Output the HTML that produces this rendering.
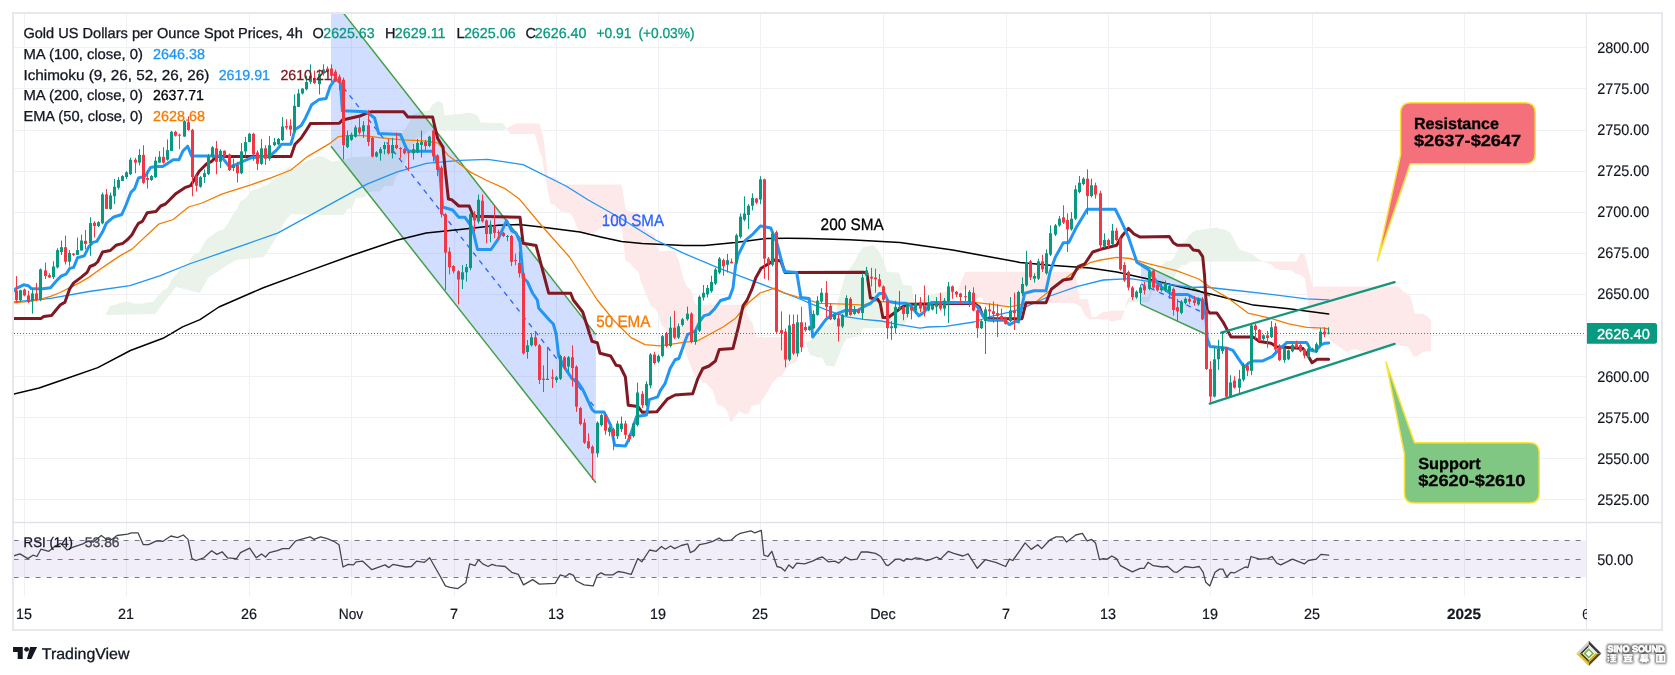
<!DOCTYPE html>
<html><head><meta charset="utf-8"><style>
html,body{margin:0;padding:0;background:#fff;width:1675px;height:675px;overflow:hidden;}
svg{display:block;will-change:transform;} text{text-rendering:geometricPrecision;}
</style></head><body>
<svg width="1675" height="675" viewBox="0 0 1675 675">
<rect width="1675" height="675" fill="#ffffff"/>
<g stroke="#f0f1f4" stroke-width="1"><line x1="13" y1="499.5" x2="1587" y2="499.5"/><line x1="13" y1="458.5" x2="1587" y2="458.5"/><line x1="13" y1="417.5" x2="1587" y2="417.5"/><line x1="13" y1="376.5" x2="1587" y2="376.5"/><line x1="13" y1="335.5" x2="1587" y2="335.5"/><line x1="13" y1="294.5" x2="1587" y2="294.5"/><line x1="13" y1="253.5" x2="1587" y2="253.5"/><line x1="13" y1="212.5" x2="1587" y2="212.5"/><line x1="13" y1="171.5" x2="1587" y2="171.5"/><line x1="13" y1="130.5" x2="1587" y2="130.5"/><line x1="13" y1="88.5" x2="1587" y2="88.5"/><line x1="13" y1="47.5" x2="1587" y2="47.5"/><line x1="24.5" y1="13" x2="24.5" y2="522"/><line x1="24.5" y1="523" x2="24.5" y2="596"/><line x1="126.5" y1="13" x2="126.5" y2="522"/><line x1="126.5" y1="523" x2="126.5" y2="596"/><line x1="249.5" y1="13" x2="249.5" y2="522"/><line x1="249.5" y1="523" x2="249.5" y2="596"/><line x1="351.5" y1="13" x2="351.5" y2="522"/><line x1="351.5" y1="523" x2="351.5" y2="596"/><line x1="454.5" y1="13" x2="454.5" y2="522"/><line x1="454.5" y1="523" x2="454.5" y2="596"/><line x1="556.5" y1="13" x2="556.5" y2="522"/><line x1="556.5" y1="523" x2="556.5" y2="596"/><line x1="658.5" y1="13" x2="658.5" y2="522"/><line x1="658.5" y1="523" x2="658.5" y2="596"/><line x1="760.5" y1="13" x2="760.5" y2="522"/><line x1="760.5" y1="523" x2="760.5" y2="596"/><line x1="883.5" y1="13" x2="883.5" y2="522"/><line x1="883.5" y1="523" x2="883.5" y2="596"/><line x1="1006.5" y1="13" x2="1006.5" y2="522"/><line x1="1006.5" y1="523" x2="1006.5" y2="596"/><line x1="1108.5" y1="13" x2="1108.5" y2="522"/><line x1="1108.5" y1="523" x2="1108.5" y2="596"/><line x1="1210.5" y1="13" x2="1210.5" y2="522"/><line x1="1210.5" y1="523" x2="1210.5" y2="596"/><line x1="1312.5" y1="13" x2="1312.5" y2="522"/><line x1="1312.5" y1="523" x2="1312.5" y2="596"/><line x1="1464.5" y1="13" x2="1464.5" y2="522"/><line x1="1464.5" y1="523" x2="1464.5" y2="596"/></g>
<defs><clipPath id="pane"><rect x="14" y="14" width="1572" height="507.5"/></clipPath><clipPath id="rsip"><rect x="14" y="523.5" width="1572" height="72"/></clipPath></defs>
<g clip-path="url(#pane)">
<polygon points="106.0,313.6 106.5,312.7 107.0,311.7 107.5,310.8 108.0,309.8 108.5,308.9 109.0,307.9 109.5,306.9 110.0,306.0 110.5,305.9 111.0,305.8 111.5,305.6 112.0,305.5 112.5,305.4 113.0,305.3 113.5,305.1 114.0,305.0 114.5,304.9 115.0,304.8 115.5,304.6 116.0,304.6 116.5,304.4 117.0,304.1 117.5,303.9 118.0,303.6 118.5,303.5 119.0,303.3 119.5,303.2 120.0,303.1 120.5,303.0 121.0,302.8 121.5,302.7 122.0,302.6 122.5,302.5 123.0,302.3 123.5,302.2 124.0,302.1 124.5,302.0 125.0,301.9 125.5,301.7 126.0,301.7 126.5,301.7 127.0,301.8 127.5,301.8 128.0,301.9 128.5,301.9 129.0,301.9 129.5,302.0 130.0,302.0 130.5,302.1 131.0,302.3 131.5,302.5 132.0,302.8 132.5,303.0 133.0,303.3 133.5,303.5 134.0,303.6 134.5,303.6 135.0,303.6 135.5,303.6 136.0,303.6 136.5,303.6 137.0,303.6 137.5,303.6 138.0,303.6 138.5,303.7 139.0,303.7 139.5,303.7 140.0,303.7 140.5,303.7 141.0,303.7 141.5,303.7 142.0,303.7 142.5,303.7 143.0,303.7 143.5,303.6 144.0,303.4 144.5,303.2 145.0,303.0 145.5,302.8 146.0,302.6 146.5,302.5 147.0,302.5 147.5,302.4 148.0,302.3 148.5,302.3 149.0,302.2 149.5,302.1 150.0,302.1 150.5,302.0 151.0,301.9 151.5,301.9 152.0,301.8 152.5,301.7 153.0,301.5 153.5,301.2 154.0,300.7 154.5,300.1 155.0,299.6 155.5,299.0 156.0,298.4 156.5,297.8 157.0,297.2 157.5,296.6 158.0,296.0 158.5,295.4 159.0,294.8 159.5,294.3 160.0,293.7 160.5,293.2 161.0,292.6 161.5,292.0 162.0,291.5 162.5,290.9 163.0,290.5 163.5,290.2 164.0,289.9 164.5,289.7 165.0,289.4 165.5,289.2 166.0,289.0 166.5,288.7 167.0,288.5 167.5,287.9 168.0,287.1 168.5,286.1 169.0,285.1 169.5,284.0 170.0,282.9 170.5,281.8 171.0,280.7 171.5,279.6 172.0,278.6 172.5,278.1 173.0,277.7 173.5,277.2 174.0,276.8 174.5,276.4 175.0,275.9 175.5,275.5 176.0,275.0 176.5,274.2 177.0,273.4 177.5,272.6 178.0,271.7 178.5,270.9 179.0,270.1 179.5,269.3 180.0,268.8 180.5,268.5 181.0,268.3 181.5,268.0 182.0,267.7 182.5,267.5 183.0,267.2 183.5,267.0 184.0,266.7 184.5,266.4 185.0,266.1 185.5,265.9 186.0,265.6 186.5,265.3 187.0,264.6 187.5,263.9 188.0,263.2 188.5,262.5 189.0,261.7 189.5,260.9 190.0,259.9 190.5,258.9 191.0,257.9 191.5,257.0 192.0,256.2 192.5,255.7 193.0,255.4 193.5,255.0 194.0,254.7 194.5,254.3 195.0,253.9 195.5,253.7 196.0,253.6 196.5,253.4 197.0,253.2 197.5,253.0 198.0,252.6 198.5,252.3 199.0,252.0 199.5,251.4 200.0,250.7 200.5,249.8 201.0,248.9 201.5,247.9 202.0,247.0 202.5,246.1 203.0,245.2 203.5,244.3 204.0,243.4 204.5,242.5 205.0,241.7 205.5,241.1 206.0,240.4 206.5,239.8 207.0,239.2 207.5,238.6 208.0,238.0 208.5,237.3 209.0,237.0 209.5,236.7 210.0,236.5 210.5,236.2 211.0,235.9 211.5,235.7 212.0,235.4 212.5,235.1 213.0,234.7 213.5,234.3 214.0,233.8 214.5,233.4 215.0,233.0 215.5,232.5 216.0,232.2 216.5,231.9 217.0,231.6 217.5,231.3 218.0,231.0 218.5,230.8 219.0,230.6 219.5,230.5 220.0,230.3 220.5,230.2 221.0,230.0 221.5,229.9 222.0,229.7 222.5,229.6 223.0,229.4 223.5,229.2 224.0,229.1 224.5,228.5 225.0,227.9 225.5,227.1 226.0,226.3 226.5,225.6 227.0,224.8 227.5,224.0 228.0,223.2 228.5,222.4 229.0,221.6 229.5,220.7 230.0,219.8 230.5,218.9 231.0,218.0 231.5,217.1 232.0,216.1 232.5,215.2 233.0,214.3 233.5,213.8 234.0,213.2 234.5,212.6 235.0,211.9 235.5,211.2 236.0,210.5 236.5,209.7 237.0,209.0 237.5,207.8 238.0,206.7 238.5,205.6 239.0,204.5 239.5,203.4 240.0,202.2 240.5,201.1 241.0,200.5 241.5,200.4 242.0,200.2 242.5,200.0 243.0,199.8 243.5,199.6 244.0,199.4 244.5,199.2 245.0,198.8 245.5,198.2 246.0,197.7 246.5,197.2 247.0,196.7 247.5,196.1 248.0,195.3 248.5,194.4 249.0,193.6 249.5,192.7 250.0,192.3 250.5,191.8 251.0,191.4 251.5,190.9 252.0,190.5 252.5,190.0 253.0,189.8 253.5,189.7 254.0,189.6 254.5,189.5 255.0,189.4 255.5,189.4 256.0,189.3 256.5,189.2 257.0,189.1 257.5,189.0 258.0,189.0 258.5,188.7 259.0,188.5 259.5,188.2 260.0,187.9 260.5,187.6 261.0,187.3 261.5,187.1 262.0,186.8 262.5,186.5 263.0,186.2 263.5,186.1 264.0,186.0 264.5,185.9 265.0,185.8 265.5,185.5 266.0,185.3 266.5,185.0 267.0,184.7 267.5,184.5 268.0,184.2 268.5,183.8 269.0,183.4 269.5,183.0 270.0,182.5 270.5,182.1 271.0,181.7 271.5,181.3 272.0,180.9 272.5,180.4 273.0,180.0 273.5,179.6 274.0,179.2 274.5,178.8 275.0,178.4 275.5,178.0 276.0,177.7 276.5,177.5 277.0,177.2 277.5,177.0 278.0,176.7 278.5,176.5 279.0,176.3 279.5,176.2 280.0,176.0 280.5,175.8 281.0,175.7 281.5,175.2 282.0,174.5 282.5,173.8 283.0,173.0 283.5,172.3 284.0,171.6 284.5,170.9 285.0,170.2 285.5,169.7 286.0,169.2 286.5,168.8 287.0,168.4 287.5,168.1 288.0,167.7 288.5,167.4 289.0,167.1 289.5,166.7 290.0,166.5 290.5,167.1 291.0,167.6 291.5,168.2 292.0,168.7 292.5,169.3 293.0,169.7 293.5,169.9 294.0,169.8 294.5,169.4 295.0,169.0 295.5,168.6 296.0,168.1 296.5,167.7 297.0,167.3 297.5,166.9 298.0,166.5 298.5,166.0 299.0,165.6 299.5,165.2 300.0,164.8 300.5,164.4 301.0,164.0 301.5,163.6 302.0,163.3 302.5,163.1 303.0,162.8 303.5,162.6 304.0,162.3 304.5,162.1 305.0,161.8 305.5,161.6 306.0,161.3 306.5,161.1 307.0,160.8 307.5,160.6 308.0,160.3 308.5,160.1 309.0,159.8 309.5,159.7 310.0,159.5 310.5,159.4 311.0,159.3 311.5,159.2 312.0,159.1 312.5,159.0 313.0,158.8 313.5,158.7 314.0,158.6 314.5,158.3 315.0,158.1 315.5,157.8 316.0,157.5 316.5,157.3 317.0,157.0 317.5,156.7 318.0,156.5 318.5,156.2 319.0,156.2 319.5,156.2 320.0,156.2 320.5,156.2 321.0,156.2 321.5,156.2 322.0,156.3 322.5,156.4 323.0,156.5 323.5,156.6 324.0,156.8 324.5,157.1 325.0,157.5 325.5,157.8 326.0,158.1 326.5,158.4 327.0,158.7 327.5,159.0 328.0,159.3 328.5,159.7 329.0,160.0 329.5,160.3 330.0,160.6 330.5,160.9 331.0,161.2 331.5,161.5 332.0,161.8 332.5,161.7 333.0,161.6 333.5,161.5 334.0,161.4 334.5,161.3 335.0,161.2 335.5,161.1 336.0,161.0 336.5,160.9 337.0,160.8 337.5,160.7 338.0,160.6 338.5,160.5 339.0,160.4 339.5,160.3 340.0,160.2 340.5,160.0 341.0,159.9 341.5,159.8 342.0,159.7 342.5,159.6 343.0,159.5 343.5,159.4 344.0,159.3 344.5,159.2 345.0,159.0 345.5,158.9 346.0,158.8 346.5,158.7 347.0,158.6 347.5,158.5 348.0,158.4 348.5,158.3 349.0,158.2 349.5,158.0 350.0,157.9 350.5,157.8 351.0,157.7 351.5,157.6 352.0,157.5 352.5,157.4 353.0,157.3 353.5,157.2 354.0,157.1 354.5,157.1 355.0,157.0 355.5,157.0 356.0,157.0 356.5,157.0 357.0,157.0 357.5,156.9 358.0,156.9 358.5,156.9 359.0,156.9 359.5,156.9 360.0,156.8 360.5,156.8 361.0,156.8 361.5,156.8 362.0,156.8 362.5,156.7 363.0,156.7 363.5,156.7 364.0,156.7 364.5,156.7 365.0,156.6 365.5,156.6 366.0,156.6 366.5,156.6 367.0,156.5 367.5,156.5 368.0,156.4 368.5,156.4 369.0,156.4 369.5,156.3 370.0,156.3 370.5,156.2 371.0,156.2 371.5,156.2 372.0,156.1 372.5,156.0 373.0,155.8 373.5,155.6 374.0,155.4 374.5,155.2 375.0,155.0 375.5,154.8 376.0,154.6 376.5,154.3 377.0,154.1 377.5,153.9 378.0,153.7 378.5,153.5 379.0,153.2 379.5,152.9 380.0,152.6 380.5,152.3 381.0,152.0 381.5,151.7 382.0,151.4 382.5,151.1 383.0,150.8 383.5,150.5 384.0,150.4 384.5,150.4 385.0,150.4 385.5,150.4 386.0,150.4 386.5,150.4 387.0,150.4 387.5,150.4 388.0,150.4 388.5,150.4 389.0,150.4 389.5,150.4 390.0,150.4 390.5,150.4 391.0,150.4 391.5,150.4 392.0,150.4 392.5,150.4 393.0,150.4 393.5,149.2 394.0,147.5 394.5,145.9 395.0,144.2 395.5,142.6 396.0,140.9 396.5,139.3 397.0,137.6 397.5,136.7 398.0,136.3 398.5,135.8 399.0,135.4 399.5,135.0 400.0,134.6 400.5,134.2 401.0,133.8 401.5,133.3 402.0,132.9 402.5,132.5 403.0,132.1 403.5,131.6 404.0,130.8 404.5,130.0 405.0,129.2 405.5,128.4 406.0,127.6 406.5,126.8 407.0,126.0 407.5,125.2 408.0,124.2 408.5,123.3 409.0,122.4 409.5,121.4 410.0,120.5 410.5,119.5 411.0,118.6 411.5,117.7 412.0,116.7 412.5,115.8 413.0,115.0 413.5,114.4 414.0,114.0 414.5,113.9 415.0,113.7 415.5,113.5 416.0,113.3 416.5,113.1 417.0,113.0 417.5,112.8 418.0,112.6 418.5,112.4 419.0,112.2 419.5,112.1 420.0,111.9 420.5,111.7 421.0,111.5 421.5,111.4 422.0,111.4 422.5,111.4 423.0,111.3 423.5,111.3 424.0,111.2 424.5,111.2 425.0,111.2 425.5,111.1 426.0,111.1 426.5,111.0 427.0,111.0 427.5,111.0 428.0,110.9 428.5,110.6 429.0,109.9 429.5,109.2 430.0,108.4 430.5,107.7 431.0,106.9 431.5,106.2 432.0,105.5 432.5,104.7 433.0,104.3 433.5,104.0 434.0,103.6 434.5,103.3 435.0,102.9 435.5,102.5 436.0,102.2 436.5,101.8 437.0,101.5 437.5,101.1 438.0,101.2 438.5,101.4 439.0,101.6 439.5,101.8 440.0,102.0 440.5,102.2 441.0,102.4 441.5,102.6 442.0,102.5 442.5,102.4 443.0,104.9 443.5,108.1 444.0,111.3 444.5,114.6 445.0,115.4 445.5,115.3 446.0,115.3 446.5,115.2 447.0,115.2 447.5,115.1 448.0,115.1 448.5,115.0 449.0,115.0 449.5,114.9 450.0,114.9 450.5,114.9 451.0,114.8 451.5,114.8 452.0,114.7 452.5,114.7 453.0,114.6 453.5,114.6 454.0,114.5 454.5,114.5 455.0,114.4 455.5,114.4 456.0,114.3 456.5,114.3 457.0,114.3 457.5,114.2 458.0,114.2 458.5,114.1 459.0,114.1 459.5,114.0 460.0,114.0 460.5,113.9 461.0,113.9 461.5,113.8 462.0,113.8 462.5,113.7 463.0,113.6 463.5,113.5 464.0,113.4 464.5,113.3 465.0,113.2 465.5,113.1 466.0,113.0 466.5,112.9 467.0,112.9 467.5,112.8 468.0,112.7 468.5,112.6 469.0,112.6 469.5,112.7 470.0,112.8 470.5,113.0 471.0,113.1 471.5,113.2 472.0,113.3 472.5,113.4 473.0,113.6 473.5,113.7 474.0,113.8 474.5,114.0 475.0,114.2 475.5,114.4 476.0,114.6 476.5,114.8 477.0,115.2 477.5,116.2 478.0,117.1 478.5,118.1 479.0,119.0 479.5,120.0 480.0,120.9 480.5,121.9 481.0,122.7 481.5,122.7 482.0,122.7 482.5,122.7 483.0,122.7 483.5,122.8 484.0,122.8 484.5,122.8 485.0,122.8 485.5,122.8 486.0,122.8 486.5,122.8 487.0,122.8 487.5,122.9 488.0,122.9 488.5,122.9 489.0,122.9 489.5,122.9 490.0,122.9 490.5,122.9 491.0,122.9 491.5,122.9 492.0,123.0 492.5,123.0 493.0,123.0 493.5,123.0 494.0,123.0 494.5,123.0 495.0,123.0 495.5,123.0 496.0,123.0 496.5,123.1 497.0,123.1 497.5,123.1 498.0,123.1 498.5,123.1 499.0,123.1 499.5,123.1 500.0,123.1 500.5,123.1 501.0,123.2 501.5,123.2 502.0,123.2 502.5,123.2 503.0,123.5 503.5,124.1 504.0,124.7 504.5,125.3 505.0,125.9 505.5,126.5 506.0,127.2 506.5,128.1 506.5,128.3 506.0,128.6 505.5,128.9 505.0,129.2 504.5,129.5 504.0,129.8 503.5,130.0 503.0,130.3 502.5,130.3 502.0,130.3 501.5,130.3 501.0,130.3 500.5,130.3 500.0,130.3 499.5,130.3 499.0,130.3 498.5,130.3 498.0,130.3 497.5,130.3 497.0,130.3 496.5,130.3 496.0,130.3 495.5,130.3 495.0,130.3 494.5,130.3 494.0,130.3 493.5,130.3 493.0,130.3 492.5,130.3 492.0,130.3 491.5,130.3 491.0,130.3 490.5,130.3 490.0,130.3 489.5,130.3 489.0,130.3 488.5,130.3 488.0,130.3 487.5,130.3 487.0,130.3 486.5,130.3 486.0,130.3 485.5,130.3 485.0,130.3 484.5,130.3 484.0,130.3 483.5,130.3 483.0,130.3 482.5,130.3 482.0,130.3 481.5,130.3 481.0,130.3 480.5,130.3 480.0,130.3 479.5,130.3 479.0,130.3 478.5,130.3 478.0,130.3 477.5,130.3 477.0,130.3 476.5,130.3 476.0,130.3 475.5,130.3 475.0,130.3 474.5,130.3 474.0,130.3 473.5,130.3 473.0,130.3 472.5,130.3 472.0,130.3 471.5,130.3 471.0,130.3 470.5,130.3 470.0,130.3 469.5,130.3 469.0,130.3 468.5,130.3 468.0,130.3 467.5,130.3 467.0,130.3 466.5,130.3 466.0,130.3 465.5,130.3 465.0,130.3 464.5,130.3 464.0,130.3 463.5,130.3 463.0,130.3 462.5,130.3 462.0,130.3 461.5,130.3 461.0,130.3 460.5,130.3 460.0,130.3 459.5,130.3 459.0,130.3 458.5,130.3 458.0,130.3 457.5,130.3 457.0,130.3 456.5,130.3 456.0,130.3 455.5,130.3 455.0,130.3 454.5,130.3 454.0,130.3 453.5,130.3 453.0,130.3 452.5,130.3 452.0,130.3 451.5,130.3 451.0,130.3 450.5,130.3 450.0,130.3 449.5,130.3 449.0,130.3 448.5,130.3 448.0,130.3 447.5,130.3 447.0,130.3 446.5,130.3 446.0,130.3 445.5,130.3 445.0,130.3 444.5,130.3 444.0,130.3 443.5,130.3 443.0,130.3 442.5,130.3 442.0,130.3 441.5,130.3 441.0,130.3 440.5,130.3 440.0,130.3 439.5,130.3 439.0,130.3 438.5,130.3 438.0,130.3 437.5,130.3 437.0,130.3 436.5,130.3 436.0,130.3 435.5,130.3 435.0,130.3 434.5,130.3 434.0,130.3 433.5,130.3 433.0,130.3 432.5,130.3 432.0,130.3 431.5,130.3 431.0,130.3 430.5,130.3 430.0,130.3 429.5,130.3 429.0,130.7 428.5,131.2 428.0,131.7 427.5,132.1 427.0,132.6 426.5,133.1 426.0,133.5 425.5,134.0 425.0,134.4 424.5,134.8 424.0,135.1 423.5,135.5 423.0,135.8 422.5,136.2 422.0,136.5 421.5,136.9 421.0,137.1 420.5,137.1 420.0,137.1 419.5,137.1 419.0,137.1 418.5,137.1 418.0,137.1 417.5,137.1 417.0,137.3 416.5,138.2 416.0,139.1 415.5,140.0 415.0,140.9 414.5,141.7 414.0,142.6 413.5,143.5 413.0,144.4 412.5,145.3 412.0,146.1 411.5,147.0 411.0,147.8 410.5,148.7 410.0,149.6 409.5,150.4 409.0,151.3 408.5,152.7 408.0,154.1 407.5,155.5 407.0,156.9 406.5,158.3 406.0,159.7 405.5,161.1 405.0,162.5 404.5,163.8 404.0,164.9 403.5,166.1 403.0,167.3 402.5,168.5 402.0,169.7 401.5,170.9 401.0,172.0 400.5,172.7 400.0,173.0 399.5,173.4 399.0,173.7 398.5,174.0 398.0,174.3 397.5,174.6 397.0,174.9 396.5,175.7 396.0,177.0 395.5,178.4 395.0,179.7 394.5,181.0 394.0,182.4 393.5,183.7 393.0,185.1 392.5,186.1 392.0,186.1 391.5,186.1 391.0,186.1 390.5,186.1 390.0,186.1 389.5,186.1 389.0,186.1 388.5,186.1 388.0,186.1 387.5,186.1 387.0,186.1 386.5,186.1 386.0,186.1 385.5,186.1 385.0,186.1 384.5,186.1 384.0,186.7 383.5,187.3 383.0,188.0 382.5,188.6 382.0,189.3 381.5,189.9 381.0,190.6 380.5,191.2 380.0,191.4 379.5,191.4 379.0,191.4 378.5,191.4 378.0,191.4 377.5,191.4 377.0,191.4 376.5,191.4 376.0,191.4 375.5,191.4 375.0,191.4 374.5,191.4 374.0,191.4 373.5,191.4 373.0,191.4 372.5,191.4 372.0,191.5 371.5,191.6 371.0,191.7 370.5,191.8 370.0,191.9 369.5,192.1 369.0,192.2 368.5,192.3 368.0,192.5 367.5,193.1 367.0,193.8 366.5,194.4 366.0,195.1 365.5,195.7 365.0,196.4 364.5,197.0 364.0,197.7 363.5,197.7 363.0,197.7 362.5,197.7 362.0,197.7 361.5,197.7 361.0,197.7 360.5,197.7 360.0,197.7 359.5,197.7 359.0,197.7 358.5,197.7 358.0,197.7 357.5,197.7 357.0,197.7 356.5,197.7 356.0,197.7 355.5,198.5 355.0,199.9 354.5,201.2 354.0,202.6 353.5,203.9 353.0,205.3 352.5,206.6 352.0,208.0 351.5,208.8 351.0,208.8 350.5,208.8 350.0,208.8 349.5,208.8 349.0,208.8 348.5,208.8 348.0,208.8 347.5,209.0 347.0,209.7 346.5,210.5 346.0,211.3 345.5,212.0 345.0,212.8 344.5,213.6 344.0,214.3 343.5,215.0 343.0,215.0 342.5,215.0 342.0,215.0 341.5,215.0 341.0,215.0 340.5,215.0 340.0,215.0 339.5,215.0 339.0,215.0 338.5,215.0 338.0,215.0 337.5,215.0 337.0,215.0 336.5,215.0 336.0,215.0 335.5,215.0 335.0,215.0 334.5,215.0 334.0,215.0 333.5,215.0 333.0,215.0 332.5,215.0 332.0,215.0 331.5,215.0 331.0,215.0 330.5,215.0 330.0,215.0 329.5,215.0 329.0,215.0 328.5,215.0 328.0,215.0 327.5,215.0 327.0,215.0 326.5,215.0 326.0,215.0 325.5,215.0 325.0,215.0 324.5,215.0 324.0,215.0 323.5,215.0 323.0,215.0 322.5,215.0 322.0,215.0 321.5,215.0 321.0,215.0 320.5,214.9 320.0,214.9 319.5,214.9 319.0,214.9 318.5,214.9 318.0,214.9 317.5,214.8 317.0,214.8 316.5,214.8 316.0,214.8 315.5,214.8 315.0,214.8 314.5,214.8 314.0,214.7 313.5,214.7 313.0,214.7 312.5,214.7 312.0,214.7 311.5,214.7 311.0,214.6 310.5,214.6 310.0,214.6 309.5,214.6 309.0,214.6 308.5,214.6 308.0,214.5 307.5,214.5 307.0,214.5 306.5,214.5 306.0,214.5 305.5,214.5 305.0,214.4 304.5,214.4 304.0,214.4 303.5,214.4 303.0,214.4 302.5,214.4 302.0,214.4 301.5,214.3 301.0,214.3 300.5,214.3 300.0,214.3 299.5,214.3 299.0,214.3 298.5,214.2 298.0,214.2 297.5,214.2 297.0,214.2 296.5,214.2 296.0,214.2 295.5,214.1 295.0,214.1 294.5,214.1 294.0,214.1 293.5,214.1 293.0,214.1 292.5,214.0 292.0,214.0 291.5,214.0 291.0,214.0 290.5,214.6 290.0,215.2 289.5,215.8 289.0,216.4 288.5,217.0 288.0,217.6 287.5,218.2 287.0,218.8 286.5,219.4 286.0,220.0 285.5,220.9 285.0,221.8 284.5,222.7 284.0,223.6 283.5,224.5 283.0,225.4 282.5,226.3 282.0,227.2 281.5,228.1 281.0,229.0 280.5,229.9 280.0,230.8 279.5,231.7 279.0,232.6 278.5,233.5 278.0,234.4 277.5,235.3 277.0,236.2 276.5,237.1 276.0,238.0 275.5,238.8 275.0,239.6 274.5,240.4 274.0,241.2 273.5,242.0 273.0,242.8 272.5,243.5 272.0,244.3 271.5,245.1 271.0,245.9 270.5,246.7 270.0,247.5 269.5,248.3 269.0,249.1 268.5,249.9 268.0,250.7 267.5,251.5 267.0,252.2 266.5,253.0 266.0,253.8 265.5,254.6 265.0,255.4 264.5,256.2 264.0,257.0 263.5,257.1 263.0,257.1 262.5,257.2 262.0,257.2 261.5,257.3 261.0,257.3 260.5,257.4 260.0,257.4 259.5,257.5 259.0,257.5 258.5,257.6 258.0,257.6 257.5,257.7 257.0,257.8 256.5,257.8 256.0,257.9 255.5,257.9 255.0,258.0 254.5,258.0 254.0,258.1 253.5,258.1 253.0,258.2 252.5,258.2 252.0,258.3 251.5,258.3 251.0,258.4 250.5,258.4 250.0,258.5 249.5,258.6 249.0,258.6 248.5,258.7 248.0,258.7 247.5,258.8 247.0,258.8 246.5,258.9 246.0,258.9 245.5,259.0 245.0,259.0 244.5,259.1 244.0,259.1 243.5,259.2 243.0,259.2 242.5,259.3 242.0,259.4 241.5,259.4 241.0,259.5 240.5,259.5 240.0,259.6 239.5,259.6 239.0,259.7 238.5,259.7 238.0,259.8 237.5,259.8 237.0,259.9 236.5,259.9 236.0,260.0 235.5,260.3 235.0,260.6 234.5,260.9 234.0,261.2 233.5,261.5 233.0,261.8 232.5,262.2 232.0,262.5 231.5,262.8 231.0,263.1 230.5,263.4 230.0,263.7 229.5,264.0 229.0,264.3 228.5,264.6 228.0,264.9 227.5,265.2 227.0,265.5 226.5,265.8 226.0,266.2 225.5,266.5 225.0,266.8 224.5,267.1 224.0,267.4 223.5,267.7 223.0,268.0 222.5,268.3 222.0,268.7 221.5,269.0 221.0,269.3 220.5,269.7 220.0,270.0 219.5,270.3 219.0,270.7 218.5,271.0 218.0,271.3 217.5,271.7 217.0,272.0 216.5,272.3 216.0,272.7 215.5,273.0 215.0,273.3 214.5,273.7 214.0,274.0 213.5,274.3 213.0,274.7 212.5,275.0 212.0,275.3 211.5,275.7 211.0,276.0 210.5,276.3 210.0,276.7 209.5,277.0 209.0,277.3 208.5,277.7 208.0,278.0 207.5,278.9 207.0,279.9 206.5,280.8 206.0,281.8 205.5,282.7 205.0,283.6 204.5,284.6 204.0,285.5 203.5,286.4 203.0,287.4 202.5,288.3 202.0,289.2 201.5,290.2 201.0,291.1 200.5,292.1 200.0,293.0 199.5,292.9 199.0,292.8 198.5,292.6 198.0,292.5 197.5,292.4 197.0,292.2 196.5,292.1 196.0,292.0 195.5,291.9 195.0,291.8 194.5,291.6 194.0,291.5 193.5,291.4 193.0,291.2 192.5,291.1 192.0,291.0 191.5,290.9 191.0,290.8 190.5,290.6 190.0,290.5 189.5,290.4 189.0,290.2 188.5,290.1 188.0,290.0 187.5,289.9 187.0,289.8 186.5,289.6 186.0,289.5 185.5,289.4 185.0,289.2 184.5,289.1 184.0,289.0 183.5,288.9 183.0,288.8 182.5,288.6 182.0,288.5 181.5,288.4 181.0,288.2 180.5,288.1 180.0,288.0 179.5,287.9 179.0,287.8 178.5,287.6 178.0,287.5 177.5,287.4 177.0,287.2 176.5,287.1 176.0,287.0 175.5,287.6 175.0,288.3 174.5,288.9 174.0,289.5 173.5,290.2 173.0,290.8 172.5,291.5 172.0,292.1 171.5,292.7 171.0,293.4 170.5,294.0 170.0,294.6 169.5,295.3 169.0,295.9 168.5,296.5 168.0,297.2 167.5,297.8 167.0,298.5 166.5,299.1 166.0,299.7 165.5,300.4 165.0,301.0 164.5,301.6 164.0,302.3 163.5,302.9 163.0,303.6 162.5,304.2 162.0,304.9 161.5,305.6 161.0,306.2 160.5,306.9 160.0,307.5 159.5,308.1 159.0,308.8 158.5,309.4 158.0,310.1 157.5,310.8 157.0,311.4 156.5,312.1 156.0,312.7 155.5,313.4 155.0,314.0 154.5,314.0 154.0,314.0 153.5,314.0 153.0,314.0 152.5,314.1 152.0,314.1 151.5,314.1 151.0,314.1 150.5,314.1 150.0,314.1 149.5,314.1 149.0,314.1 148.5,314.1 148.0,314.1 147.5,314.2 147.0,314.2 146.5,314.2 146.0,314.2 145.5,314.2 145.0,314.2 144.5,314.2 144.0,314.2 143.5,314.2 143.0,314.2 142.5,314.3 142.0,314.3 141.5,314.3 141.0,314.3 140.5,314.3 140.0,314.3 139.5,314.3 139.0,314.3 138.5,314.3 138.0,314.3 137.5,314.4 137.0,314.4 136.5,314.4 136.0,314.4 135.5,314.4 135.0,314.4 134.5,314.4 134.0,314.4 133.5,314.4 133.0,314.4 132.5,314.5 132.0,314.5 131.5,314.5 131.0,314.5 130.5,314.5 130.0,314.5 129.5,314.5 129.0,314.5 128.5,314.5 128.0,314.6 127.5,314.6 127.0,314.6 126.5,314.6 126.0,314.6 125.5,314.6 125.0,314.6 124.5,314.6 124.0,314.6 123.5,314.6 123.0,314.7 122.5,314.7 122.0,314.7 121.5,314.7 121.0,314.7 120.5,314.7 120.0,314.7 119.5,314.7 119.0,314.7 118.5,314.7 118.0,314.8 117.5,314.8 117.0,314.8 116.5,314.8 116.0,314.8 115.5,314.8 115.0,314.8 114.5,314.8 114.0,314.8 113.5,314.8 113.0,314.9 112.5,314.9 112.0,314.9 111.5,314.9 111.0,314.9 110.5,314.9 110.0,314.9 109.5,314.9 109.0,314.9 108.5,314.9 108.0,315.0 107.5,315.0 107.0,315.0 106.5,315.0 106.0,315.0" fill="#e9f3ea"/><polygon points="506.5,128.1 507.0,129.0 507.5,129.9 508.0,130.8 508.5,131.7 509.0,132.5 509.5,133.0 510.0,133.6 510.5,133.8 511.0,134.1 511.5,134.1 512.0,134.1 512.5,134.1 513.0,134.1 513.5,134.1 514.0,134.1 514.5,134.1 515.0,134.1 515.5,134.1 516.0,134.1 516.5,134.1 517.0,134.1 517.5,134.1 518.0,134.1 518.5,134.1 519.0,134.1 519.5,134.1 520.0,134.1 520.5,134.1 521.0,134.1 521.5,134.1 522.0,134.1 522.5,134.1 523.0,134.1 523.5,134.1 524.0,134.1 524.5,134.1 525.0,134.1 525.5,134.1 526.0,134.1 526.5,134.1 527.0,134.1 527.5,134.1 528.0,134.1 528.5,134.1 529.0,134.1 529.5,134.1 530.0,134.1 530.5,134.1 531.0,134.1 531.5,134.1 532.0,134.1 532.5,134.1 533.0,134.1 533.5,134.1 534.0,134.1 534.5,134.1 535.0,134.7 535.5,136.5 536.0,138.3 536.5,140.1 537.0,141.8 537.5,143.5 538.0,145.2 538.5,146.9 539.0,148.7 539.5,150.4 540.0,152.2 540.5,153.4 541.0,154.5 541.5,155.6 542.0,156.8 542.5,159.9 543.0,163.6 543.5,167.4 544.0,171.2 544.5,174.9 545.0,176.9 545.5,178.5 546.0,181.2 546.5,183.9 547.0,186.6 547.5,189.1 548.0,191.4 548.5,193.8 549.0,196.2 549.5,198.5 550.0,200.9 550.5,203.3 551.0,204.0 551.5,204.1 552.0,204.2 552.5,204.4 553.0,204.5 553.5,204.6 554.0,204.8 554.5,205.1 555.0,205.5 555.5,206.0 556.0,206.5 556.5,207.0 557.0,207.5 557.5,208.0 558.0,208.5 558.5,209.1 559.0,209.6 559.5,210.1 560.0,210.6 560.5,211.1 561.0,211.6 561.5,211.7 562.0,211.7 562.5,211.7 563.0,211.7 563.5,211.7 564.0,211.7 564.5,211.7 565.0,211.7 565.5,211.7 566.0,211.7 566.5,211.7 567.0,211.7 567.5,211.8 568.0,212.2 568.5,212.6 569.0,212.9 569.5,213.3 570.0,213.6 570.5,214.0 571.0,214.3 571.5,214.8 572.0,215.8 572.5,216.8 573.0,217.7 573.5,218.7 574.0,219.7 574.5,220.7 575.0,222.3 575.5,224.0 576.0,225.1 576.5,226.2 577.0,227.2 577.5,228.3 578.0,229.3 578.5,230.4 579.0,231.4 579.5,232.5 580.0,232.9 580.5,233.0 581.0,233.0 581.5,233.0 582.0,233.0 582.5,233.0 583.0,233.0 583.5,233.0 584.0,233.0 584.5,233.0 585.0,233.0 585.5,233.0 586.0,233.0 586.5,233.0 587.0,233.0 587.5,233.0 588.0,233.0 588.5,233.0 589.0,233.0 589.5,233.0 590.0,233.1 590.5,233.1 591.0,233.1 591.5,233.1 592.0,233.1 592.5,233.1 593.0,233.1 593.5,232.9 594.0,232.5 594.5,232.2 595.0,231.8 595.5,231.5 596.0,231.1 596.5,230.8 597.0,230.4 597.5,230.0 598.0,229.7 598.5,229.3 599.0,229.0 599.5,228.6 600.0,228.3 600.5,227.9 601.0,227.3 601.5,226.8 602.0,226.2 602.5,225.7 603.0,225.1 603.5,224.6 604.0,224.0 604.5,223.4 605.0,222.9 605.5,222.3 606.0,221.8 606.5,221.2 607.0,220.7 607.5,220.1 608.0,219.6 608.5,219.0 609.0,219.0 609.5,219.5 610.0,220.0 610.5,220.5 611.0,221.0 611.5,221.5 612.0,222.0 612.5,222.5 613.0,223.0 613.5,223.5 614.0,224.0 614.5,224.1 615.0,224.2 615.5,224.4 616.0,224.5 616.5,224.6 617.0,224.8 617.5,224.9 618.0,225.0 618.5,225.5 619.0,226.1 619.5,226.6 620.0,227.2 620.5,227.8 621.0,228.3 621.5,228.9 622.0,229.5 622.5,232.5 623.0,237.4 623.5,242.4 624.0,247.3 624.5,252.2 625.0,257.2 625.5,260.5 626.0,260.8 626.5,261.1 627.0,261.4 627.5,261.7 628.0,262.0 628.5,262.2 629.0,262.5 629.5,262.8 630.0,263.4 630.5,264.0 631.0,264.6 631.5,265.1 632.0,265.7 632.5,266.3 633.0,266.9 633.5,267.5 634.0,268.1 634.5,268.7 635.0,269.1 635.5,269.5 636.0,269.9 636.5,270.4 637.0,270.8 637.5,271.2 638.0,271.6 638.5,272.5 639.0,273.8 639.5,275.1 640.0,277.4 640.5,279.8 641.0,282.0 641.5,283.2 642.0,284.4 642.5,285.6 643.0,286.9 643.5,288.1 644.0,289.3 644.5,290.5 645.0,291.8 645.5,293.0 646.0,294.2 646.5,295.4 647.0,296.7 647.5,297.9 648.0,299.1 648.5,300.3 649.0,301.5 649.5,302.8 650.0,304.0 650.5,305.2 651.0,306.3 651.5,306.6 652.0,306.8 652.5,307.1 653.0,307.3 653.5,307.6 654.0,307.8 654.5,308.1 655.0,308.3 655.5,308.6 656.0,309.4 656.5,310.3 657.0,311.1 657.5,312.0 658.0,312.9 658.5,314.4 659.0,316.5 659.5,318.6 660.0,320.7 660.5,322.8 661.0,324.7 661.5,325.2 662.0,325.7 662.5,326.2 663.0,326.7 663.5,327.2 664.0,327.7 664.5,328.2 665.0,328.7 665.5,329.2 666.0,329.7 666.5,330.2 667.0,330.5 667.5,330.9 668.0,331.3 668.5,331.7 669.0,332.0 669.5,332.4 670.0,332.8 670.5,333.2 671.0,333.5 671.5,333.9 672.0,334.3 672.5,334.7 673.0,335.1 673.5,336.2 674.0,337.2 674.5,338.1 675.0,338.9 675.5,339.6 676.0,340.1 676.5,340.5 677.0,341.0 677.5,341.4 678.0,341.9 678.5,342.3 679.0,342.7 679.5,343.2 680.0,343.9 680.5,344.5 681.0,345.2 681.5,345.9 682.0,346.6 682.5,347.3 683.0,348.0 683.5,348.7 684.0,349.4 684.5,350.1 685.0,350.8 685.5,352.2 686.0,353.5 686.5,354.8 687.0,356.1 687.5,357.5 688.0,358.8 688.5,360.1 689.0,361.5 689.5,362.8 690.0,364.1 690.5,365.4 691.0,366.8 691.5,368.1 692.0,369.4 692.5,370.7 693.0,372.1 693.5,373.4 694.0,374.7 694.5,375.5 695.0,375.8 695.5,376.1 696.0,376.4 696.5,376.7 697.0,377.0 697.5,377.1 698.0,377.1 698.5,377.2 699.0,377.3 699.5,377.3 700.0,378.3 700.5,379.3 701.0,380.2 701.5,381.2 702.0,382.2 702.5,382.7 703.0,382.7 703.5,382.8 704.0,382.9 704.5,382.9 705.0,383.0 705.5,383.1 706.0,383.1 706.5,383.5 707.0,384.0 707.5,384.6 708.0,385.1 708.5,385.7 709.0,386.2 709.5,386.8 710.0,387.4 710.5,387.9 711.0,388.5 711.5,389.0 712.0,389.6 712.5,390.2 713.0,390.9 713.5,392.6 714.0,394.3 714.5,396.0 715.0,397.7 715.5,399.3 716.0,401.0 716.5,402.7 717.0,404.2 717.5,404.7 718.0,405.1 718.5,405.4 719.0,405.4 719.5,405.5 720.0,405.6 720.5,405.6 721.0,405.7 721.5,405.7 722.0,405.8 722.5,406.1 723.0,406.6 723.5,407.2 724.0,407.7 724.5,408.2 725.0,408.7 725.5,409.3 726.0,409.8 726.5,410.3 727.0,410.8 727.5,411.4 728.0,413.0 728.5,415.0 729.0,417.0 729.5,419.1 730.0,421.1 730.5,422.7 731.0,422.3 731.5,421.8 732.0,421.2 732.5,420.5 733.0,419.8 733.5,419.1 734.0,418.4 734.5,417.7 735.0,416.9 735.5,416.2 736.0,415.5 736.5,414.8 737.0,414.1 737.5,413.4 738.0,412.6 738.5,411.9 739.0,411.4 739.5,411.4 740.0,411.4 740.5,411.6 741.0,411.9 741.5,412.2 742.0,412.5 742.5,412.8 743.0,413.1 743.5,413.4 744.0,413.7 744.5,414.0 745.0,413.9 745.5,413.9 746.0,413.8 746.5,413.8 747.0,413.7 747.5,413.7 748.0,413.6 748.5,413.6 749.0,412.8 749.5,411.4 750.0,410.1 750.5,408.7 751.0,407.3 751.5,405.9 752.0,405.7 752.5,405.7 753.0,405.6 753.5,405.5 754.0,405.4 754.5,405.3 755.0,405.2 755.5,405.1 756.0,405.0 756.5,404.9 757.0,404.8 757.5,404.7 758.0,404.6 758.5,404.5 759.0,404.5 759.5,404.1 760.0,403.7 760.5,402.8 761.0,401.9 761.5,400.9 762.0,400.0 762.5,399.2 763.0,398.6 763.5,397.9 764.0,397.2 764.5,396.5 765.0,395.8 765.5,395.2 766.0,394.5 766.5,393.8 767.0,393.1 767.5,392.3 768.0,391.2 768.5,390.2 769.0,389.1 769.5,388.1 770.0,387.1 770.5,386.2 771.0,385.3 771.5,384.5 772.0,383.6 772.5,382.8 773.0,382.3 773.5,381.7 774.0,381.1 774.5,380.6 775.0,380.0 775.5,379.4 776.0,378.9 776.5,378.3 777.0,377.7 777.5,377.3 778.0,377.2 778.5,377.1 779.0,377.0 779.5,376.9 780.0,376.8 780.5,376.7 781.0,376.6 781.5,376.1 782.0,375.3 782.5,374.6 783.0,373.9 783.5,373.2 784.0,372.4 784.5,371.7 785.0,371.0 785.5,370.3 786.0,369.6 786.5,368.8 787.0,368.1 787.5,367.4 788.0,366.8 788.5,366.1 789.0,365.5 789.5,364.8 790.0,364.2 790.5,364.1 791.0,364.0 791.5,363.8 792.0,363.7 792.5,363.6 793.0,363.4 793.5,363.3 794.0,363.1 794.5,363.0 795.0,362.8 795.5,361.9 796.0,361.0 796.5,360.2 797.0,359.3 797.5,358.4 798.0,357.2 798.5,356.0 799.0,354.7 799.5,353.5 800.0,352.2 800.5,351.2 801.0,350.2 801.5,349.2 802.0,348.2 802.5,347.2 803.0,346.3 803.5,345.5 804.0,344.6 804.5,343.8 805.0,343.0 805.5,342.5 805.5,342.4 805.0,342.4 804.5,342.4 804.0,342.4 803.5,342.4 803.0,342.4 802.5,342.4 802.0,342.4 801.5,342.4 801.0,342.4 800.5,342.4 800.0,342.4 799.5,342.4 799.0,342.4 798.5,342.4 798.0,342.4 797.5,342.4 797.0,341.9 796.5,341.3 796.0,340.6 795.5,340.0 795.0,339.4 794.5,338.7 794.0,338.1 793.5,337.5 793.0,337.3 792.5,337.3 792.0,337.3 791.5,337.3 791.0,337.3 790.5,337.3 790.0,337.3 789.5,337.3 789.0,337.3 788.5,337.3 788.0,337.3 787.5,337.3 787.0,337.3 786.5,337.3 786.0,337.3 785.5,337.3 785.0,337.3 784.5,337.3 784.0,337.3 783.5,337.3 783.0,337.3 782.5,337.3 782.0,337.3 781.5,337.3 781.0,337.3 780.5,337.3 780.0,337.3 779.5,337.3 779.0,337.3 778.5,337.3 778.0,337.3 777.5,337.3 777.0,337.3 776.5,337.3 776.0,337.3 775.5,337.3 775.0,337.3 774.5,337.3 774.0,337.3 773.5,337.3 773.0,337.3 772.5,337.3 772.0,337.3 771.5,337.3 771.0,337.3 770.5,337.3 770.0,337.3 769.5,337.3 769.0,337.3 768.5,337.3 768.0,337.3 767.5,337.3 767.0,337.3 766.5,337.3 766.0,337.3 765.5,337.3 765.0,337.3 764.5,337.3 764.0,337.3 763.5,337.3 763.0,337.3 762.5,337.3 762.0,337.3 761.5,337.3 761.0,337.3 760.5,337.3 760.0,337.3 759.5,337.3 759.0,337.3 758.5,337.3 758.0,337.3 757.5,337.3 757.0,337.3 756.5,337.2 756.0,335.4 755.5,333.6 755.0,331.8 754.5,330.1 754.0,328.3 753.5,326.5 753.0,324.7 752.5,323.0 752.0,322.1 751.5,321.5 751.0,320.8 750.5,320.1 750.0,319.4 749.5,318.7 749.0,318.1 748.5,317.4 748.0,316.1 747.5,314.6 747.0,313.1 746.5,311.5 746.0,310.0 745.5,308.5 745.0,307.0 744.5,305.5 744.0,304.7 743.5,304.7 743.0,304.7 742.5,304.7 742.0,304.7 741.5,304.7 741.0,304.7 740.5,304.7 740.0,304.7 739.5,304.7 739.0,304.7 738.5,304.7 738.0,304.7 737.5,304.7 737.0,304.7 736.5,304.7 736.0,304.7 735.5,304.7 735.0,304.7 734.5,304.7 734.0,304.7 733.5,304.7 733.0,304.7 732.5,304.7 732.0,304.7 731.5,304.7 731.0,304.7 730.5,304.7 730.0,304.7 729.5,304.7 729.0,304.7 728.5,304.7 728.0,304.7 727.5,304.7 727.0,304.7 726.5,304.7 726.0,304.7 725.5,304.7 725.0,304.7 724.5,304.7 724.0,304.7 723.5,304.7 723.0,304.7 722.5,304.7 722.0,304.7 721.5,304.7 721.0,304.7 720.5,304.7 720.0,304.7 719.5,304.7 719.0,304.7 718.5,304.7 718.0,304.7 717.5,304.7 717.0,304.7 716.5,304.7 716.0,304.7 715.5,304.7 715.0,304.7 714.5,304.7 714.0,304.7 713.5,304.7 713.0,304.7 712.5,304.7 712.0,304.7 711.5,304.7 711.0,304.7 710.5,304.7 710.0,304.7 709.5,304.7 709.0,304.7 708.5,304.7 708.0,304.7 707.5,304.7 707.0,304.7 706.5,304.7 706.0,304.7 705.5,304.7 705.0,304.7 704.5,304.7 704.0,304.7 703.5,304.7 703.0,304.7 702.5,304.7 702.0,304.7 701.5,304.7 701.0,304.7 700.5,304.7 700.0,304.7 699.5,304.7 699.0,304.7 698.5,304.7 698.0,304.7 697.5,304.7 697.0,304.7 696.5,304.7 696.0,304.7 695.5,304.7 695.0,304.0 694.5,302.1 694.0,300.3 693.5,298.4 693.0,296.5 692.5,294.6 692.0,292.8 691.5,290.9 691.0,289.3 690.5,289.0 690.0,288.7 689.5,288.4 689.0,288.0 688.5,287.7 688.0,287.4 687.5,287.0 687.0,286.7 686.5,285.6 686.0,284.4 685.5,283.3 685.0,282.1 684.5,281.0 684.0,279.8 683.5,278.7 683.0,277.6 682.5,275.7 682.0,273.7 681.5,271.6 681.0,269.6 680.5,267.6 680.0,265.6 679.5,263.6 679.0,261.5 678.5,260.1 678.0,258.8 677.5,257.6 677.0,256.4 676.5,255.2 676.0,253.9 675.5,252.7 675.0,251.5 674.5,250.9 674.0,250.9 673.5,250.9 673.0,250.9 672.5,250.9 672.0,250.9 671.5,250.9 671.0,250.9 670.5,250.9 670.0,250.9 669.5,250.9 669.0,250.9 668.5,250.9 668.0,250.9 667.5,250.9 667.0,250.9 666.5,250.9 666.0,250.9 665.5,250.9 665.0,250.9 664.5,250.9 664.0,250.9 663.5,250.9 663.0,250.9 662.5,250.9 662.0,250.9 661.5,250.9 661.0,250.9 660.5,250.9 660.0,250.9 659.5,250.9 659.0,250.9 658.5,250.9 658.0,249.3 657.5,247.4 657.0,245.4 656.5,243.4 656.0,241.5 655.5,239.5 655.0,237.6 654.5,235.6 654.0,234.7 653.5,234.5 653.0,234.3 652.5,234.1 652.0,233.9 651.5,233.7 651.0,233.6 650.5,233.4 650.0,233.1 649.5,232.8 649.0,232.5 648.5,232.2 648.0,231.9 647.5,231.6 647.0,231.3 646.5,231.0 646.0,230.6 645.5,229.7 645.0,228.9 644.5,228.1 644.0,227.3 643.5,226.5 643.0,225.7 642.5,224.9 642.0,224.1 641.5,222.5 641.0,221.0 640.5,219.4 640.0,217.9 639.5,216.3 639.0,214.8 638.5,213.2 638.0,211.7 637.5,211.5 637.0,211.5 636.5,211.5 636.0,211.5 635.5,211.5 635.0,211.5 634.5,211.5 634.0,211.5 633.5,211.5 633.0,211.5 632.5,211.5 632.0,211.5 631.5,211.5 631.0,211.5 630.5,211.5 630.0,211.5 629.5,211.4 629.0,211.1 628.5,210.9 628.0,210.6 627.5,210.4 627.0,210.1 626.5,209.9 626.0,209.7 625.5,208.4 625.0,205.3 624.5,202.3 624.0,199.2 623.5,196.1 623.0,193.1 622.5,190.0 622.0,186.9 621.5,184.4 621.0,184.4 620.5,184.4 620.0,184.4 619.5,184.4 619.0,184.4 618.5,184.4 618.0,184.4 617.5,184.4 617.0,184.4 616.5,184.4 616.0,184.4 615.5,184.4 615.0,184.4 614.5,184.4 614.0,184.4 613.5,184.4 613.0,184.4 612.5,184.4 612.0,184.4 611.5,184.4 611.0,184.4 610.5,184.4 610.0,184.4 609.5,184.4 609.0,184.4 608.5,184.4 608.0,184.4 607.5,184.4 607.0,184.4 606.5,184.4 606.0,184.4 605.5,184.4 605.0,184.4 604.5,184.4 604.0,184.4 603.5,184.4 603.0,184.4 602.5,184.4 602.0,184.4 601.5,184.4 601.0,184.4 600.5,184.4 600.0,184.4 599.5,184.4 599.0,184.4 598.5,184.4 598.0,184.4 597.5,184.4 597.0,184.4 596.5,184.4 596.0,184.4 595.5,184.4 595.0,184.4 594.5,184.4 594.0,184.4 593.5,184.4 593.0,184.4 592.5,184.4 592.0,184.4 591.5,184.4 591.0,184.4 590.5,184.4 590.0,184.4 589.5,184.4 589.0,184.4 588.5,184.4 588.0,184.4 587.5,184.4 587.0,184.4 586.5,184.4 586.0,184.4 585.5,184.4 585.0,184.4 584.5,184.4 584.0,184.4 583.5,184.4 583.0,184.4 582.5,184.4 582.0,184.4 581.5,184.4 581.0,184.4 580.5,184.4 580.0,184.4 579.5,184.4 579.0,184.4 578.5,184.4 578.0,184.4 577.5,184.4 577.0,184.4 576.5,184.4 576.0,184.4 575.5,184.4 575.0,184.4 574.5,184.4 574.0,184.4 573.5,184.4 573.0,184.4 572.5,184.4 572.0,184.4 571.5,184.4 571.0,184.4 570.5,184.4 570.0,184.4 569.5,184.4 569.0,184.4 568.5,184.4 568.0,184.4 567.5,184.4 567.0,184.4 566.5,184.4 566.0,184.4 565.5,184.4 565.0,184.4 564.5,184.4 564.0,184.4 563.5,184.4 563.0,184.4 562.5,184.4 562.0,184.4 561.5,184.4 561.0,184.4 560.5,184.4 560.0,184.0 559.5,183.1 559.0,182.2 558.5,181.3 558.0,180.4 557.5,179.5 557.0,178.6 556.5,177.7 556.0,177.1 555.5,177.1 555.0,177.1 554.5,177.1 554.0,177.1 553.5,177.1 553.0,177.1 552.5,177.1 552.0,177.1 551.5,177.1 551.0,177.1 550.5,177.1 550.0,177.1 549.5,177.1 549.0,177.1 548.5,177.1 548.0,177.1 547.5,172.8 547.0,168.4 546.5,163.9 546.0,159.5 545.5,155.0 545.0,150.6 544.5,146.2 544.0,141.7 543.5,139.1 543.0,137.0 542.5,134.9 542.0,132.7 541.5,130.6 541.0,128.5 540.5,126.4 540.0,124.2 539.5,123.4 539.0,123.4 538.5,123.4 538.0,123.4 537.5,123.4 537.0,123.4 536.5,123.4 536.0,123.4 535.5,123.4 535.0,123.4 534.5,123.4 534.0,123.4 533.5,123.4 533.0,123.4 532.5,123.4 532.0,123.4 531.5,123.4 531.0,123.4 530.5,123.4 530.0,123.4 529.5,123.4 529.0,123.4 528.5,123.4 528.0,123.4 527.5,123.4 527.0,123.4 526.5,123.4 526.0,123.4 525.5,123.4 525.0,123.4 524.5,123.4 524.0,123.4 523.5,123.4 523.0,123.4 522.5,123.4 522.0,123.4 521.5,123.4 521.0,123.4 520.5,123.4 520.0,123.4 519.5,123.4 519.0,123.4 518.5,123.5 518.0,123.5 517.5,123.5 517.0,123.5 516.5,123.5 516.0,123.6 515.5,123.6 515.0,123.8 514.5,124.0 514.0,124.3 513.5,124.6 513.0,124.9 512.5,125.2 512.0,125.5 511.5,125.8 511.0,126.1 510.5,126.3 510.0,126.6 509.5,126.8 509.0,127.0 508.5,127.3 508.0,127.5 507.5,127.7 507.0,128.0 506.5,128.3" fill="#fde9ea"/><polygon points="805.5,342.5 806.0,342.1 806.5,341.7 807.0,341.6 807.5,341.4 808.0,341.3 808.5,341.1 809.0,340.9 809.5,340.8 810.0,340.6 810.5,340.5 811.0,340.3 811.5,340.0 812.0,339.6 812.5,339.1 813.0,338.7 813.5,338.2 814.0,337.8 814.5,337.4 815.0,336.9 815.5,336.5 816.0,336.0 816.5,335.5 817.0,335.0 817.5,334.4 818.0,333.5 818.5,332.4 819.0,331.3 819.5,330.2 820.0,329.1 820.5,328.0 821.0,326.9 821.5,325.9 822.0,325.5 822.5,325.2 823.0,324.9 823.5,324.8 824.0,324.8 824.5,324.7 825.0,324.6 825.5,324.5 826.0,324.4 826.5,324.3 827.0,324.2 827.5,324.1 828.0,324.0 828.5,323.9 829.0,323.8 829.5,323.7 830.0,323.6 830.5,323.6 831.0,323.5 831.5,323.4 832.0,322.7 832.5,322.0 833.0,321.3 833.5,320.6 834.0,319.9 834.5,319.2 835.0,318.5 835.5,316.4 836.0,313.2 836.5,310.1 837.0,306.9 837.5,303.8 838.0,301.0 838.5,299.0 839.0,297.0 839.5,295.0 840.0,293.0 840.5,291.1 841.0,289.5 841.5,287.9 842.0,286.2 842.5,284.6 843.0,283.0 843.5,281.3 844.0,279.7 844.5,278.1 845.0,276.4 845.5,275.1 846.0,274.2 846.5,273.4 847.0,272.6 847.5,271.7 848.0,271.0 848.5,270.4 849.0,269.9 849.5,269.2 850.0,268.4 850.5,267.6 851.0,266.9 851.5,266.1 852.0,265.3 852.5,264.5 853.0,263.8 853.5,263.0 854.0,262.2 854.5,261.3 855.0,260.4 855.5,259.4 856.0,258.4 856.5,257.4 857.0,256.4 857.5,255.3 858.0,254.4 858.5,253.7 859.0,252.9 859.5,252.2 860.0,251.5 860.5,250.8 861.0,250.1 861.5,249.4 862.0,248.6 862.5,247.9 863.0,247.4 863.5,247.1 864.0,247.0 864.5,246.9 865.0,246.8 865.5,246.7 866.0,246.6 866.5,246.5 867.0,246.4 867.5,246.3 868.0,246.2 868.5,246.1 869.0,246.0 869.5,245.9 870.0,245.8 870.5,245.7 871.0,245.6 871.5,245.5 872.0,245.4 872.5,245.3 873.0,245.2 873.5,245.6 874.0,246.1 874.5,246.6 875.0,247.0 875.5,247.5 876.0,248.0 876.5,248.5 877.0,248.9 877.5,249.5 878.0,250.1 878.5,250.8 879.0,251.5 879.5,252.4 880.0,253.4 880.5,254.4 881.0,255.5 881.5,256.5 882.0,257.5 882.5,258.5 883.0,259.5 883.5,261.1 884.0,262.7 884.5,264.4 885.0,266.0 885.5,267.6 886.0,269.2 886.5,270.8 887.0,271.5 887.5,272.0 888.0,272.0 888.5,272.0 889.0,272.1 889.5,272.1 890.0,272.1 890.5,272.1 891.0,272.1 891.5,272.2 892.0,272.2 892.5,272.2 893.0,272.2 893.5,272.3 894.0,272.3 894.5,272.3 895.0,272.3 895.5,272.3 896.0,272.4 896.5,272.4 897.0,272.4 897.5,272.4 898.0,272.4 898.5,272.5 899.0,272.7 899.5,274.2 900.0,275.7 900.5,277.2 901.0,278.6 901.5,280.1 902.0,281.6 902.5,283.1 903.0,284.6 903.5,285.0 904.0,285.0 904.5,285.0 905.0,285.0 905.5,285.1 906.0,285.1 906.5,285.1 907.0,285.2 907.5,285.2 908.0,285.2 908.5,285.2 909.0,285.3 909.5,285.3 910.0,285.3 910.5,285.4 911.0,285.4 911.5,285.8 912.0,288.6 912.5,291.3 913.0,294.1 913.5,296.9 914.0,299.6 914.5,302.4 915.0,304.7 915.5,304.3 916.0,304.0 916.5,303.7 917.0,303.3 917.5,303.0 918.0,302.7 918.5,302.3 919.0,302.0 919.5,301.6 920.0,301.3 920.5,301.0 921.0,300.6 921.5,300.3 922.0,300.0 922.5,299.6 923.0,299.3 923.5,299.0 924.0,298.6 924.5,298.3 925.0,298.0 925.5,297.6 926.0,297.3 926.5,297.0 927.0,296.6 927.5,296.3 928.0,295.9 928.5,295.7 929.0,295.5 929.5,295.3 930.0,295.1 930.5,294.9 931.0,294.7 931.5,294.5 932.0,294.4 932.5,294.3 933.0,294.2 933.5,294.1 934.0,294.0 934.5,293.9 935.0,293.8 935.5,293.7 936.0,293.6 936.5,293.5 937.0,293.4 937.5,293.3 938.0,293.2 938.5,293.1 939.0,293.0 939.5,292.9 940.0,292.8 940.5,292.7 941.0,292.6 941.5,292.5 942.0,292.4 942.5,292.3 943.0,292.2 943.5,292.1 944.0,292.0 944.5,291.9 945.0,291.8 945.5,291.7 946.0,291.7 946.5,291.6 947.0,291.5 947.5,291.4 948.0,291.3 948.5,291.3 949.0,291.3 949.5,291.3 950.0,291.3 950.5,291.3 951.0,291.3 951.5,291.3 952.0,291.3 952.5,291.3 953.0,291.3 953.5,291.3 954.0,291.3 954.5,291.3 955.0,291.3 955.5,291.3 956.0,291.3 956.5,291.3 956.5,291.5 956.0,291.6 955.5,291.7 955.0,291.7 954.5,291.8 954.0,291.9 953.5,292.0 953.0,292.1 952.5,292.8 952.0,293.9 951.5,295.0 951.0,296.2 950.5,297.3 950.0,298.4 949.5,299.5 949.0,300.6 948.5,301.6 948.0,302.3 947.5,302.9 947.0,303.6 946.5,304.3 946.0,305.0 945.5,305.7 945.0,306.4 944.5,307.0 944.0,307.2 943.5,307.5 943.0,307.7 942.5,308.0 942.0,308.3 941.5,308.5 941.0,308.8 940.5,309.0 940.0,309.0 939.5,309.0 939.0,309.0 938.5,309.0 938.0,309.0 937.5,309.0 937.0,309.0 936.5,309.0 936.0,309.0 935.5,309.0 935.0,309.0 934.5,309.0 934.0,309.0 933.5,309.0 933.0,309.0 932.5,309.0 932.0,309.0 931.5,309.0 931.0,309.0 930.5,309.0 930.0,309.0 929.5,309.0 929.0,309.0 928.5,309.0 928.0,309.3 927.5,309.8 927.0,310.3 926.5,310.8 926.0,311.4 925.5,311.9 925.0,312.4 924.5,312.9 924.0,313.2 923.5,313.2 923.0,313.2 922.5,313.2 922.0,313.2 921.5,313.2 921.0,313.2 920.5,313.2 920.0,313.2 919.5,313.2 919.0,313.2 918.5,313.2 918.0,313.2 917.5,313.2 917.0,313.2 916.5,313.2 916.0,313.2 915.5,313.2 915.0,313.2 914.5,313.2 914.0,313.2 913.5,313.2 913.0,313.2 912.5,313.2 912.0,313.2 911.5,313.6 911.0,314.0 910.5,314.5 910.0,314.9 909.5,315.3 909.0,315.8 908.5,316.2 908.0,316.6 907.5,317.7 907.0,319.1 906.5,320.4 906.0,321.8 905.5,323.2 905.0,324.6 904.5,326.0 904.0,327.4 903.5,328.1 903.0,328.1 902.5,328.1 902.0,328.1 901.5,328.1 901.0,328.1 900.5,328.1 900.0,328.1 899.5,328.1 899.0,328.1 898.5,328.1 898.0,328.1 897.5,328.1 897.0,328.1 896.5,328.1 896.0,328.1 895.5,328.1 895.0,328.1 894.5,328.1 894.0,328.1 893.5,328.1 893.0,328.1 892.5,328.1 892.0,328.1 891.5,328.1 891.0,328.1 890.5,328.1 890.0,328.1 889.5,328.1 889.0,328.1 888.5,328.1 888.0,328.1 887.5,328.1 887.0,328.1 886.5,328.1 886.0,328.1 885.5,328.1 885.0,328.1 884.5,328.1 884.0,328.1 883.5,328.1 883.0,328.1 882.5,328.1 882.0,328.1 881.5,328.1 881.0,328.1 880.5,328.1 880.0,328.1 879.5,328.1 879.0,328.1 878.5,328.1 878.0,328.1 877.5,328.1 877.0,328.1 876.5,328.1 876.0,328.1 875.5,328.1 875.0,328.1 874.5,328.1 874.0,328.1 873.5,328.1 873.0,328.1 872.5,328.1 872.0,328.1 871.5,328.1 871.0,328.1 870.5,328.1 870.0,328.1 869.5,328.1 869.0,328.1 868.5,328.1 868.0,328.1 867.5,328.1 867.0,328.1 866.5,328.1 866.0,328.1 865.5,328.1 865.0,328.1 864.5,328.1 864.0,328.1 863.5,328.1 863.0,328.1 862.5,328.8 862.0,329.9 861.5,330.9 861.0,332.0 860.5,333.0 860.0,334.0 859.5,335.1 859.0,336.1 858.5,336.7 858.0,336.7 857.5,336.7 857.0,336.7 856.5,336.7 856.0,336.7 855.5,336.7 855.0,336.7 854.5,336.7 854.0,336.9 853.5,337.1 853.0,337.3 852.5,337.5 852.0,337.7 851.5,337.9 851.0,338.0 850.5,338.2 850.0,338.2 849.5,338.2 849.0,338.2 848.5,338.2 848.0,338.2 847.5,338.2 847.0,338.2 846.5,338.2 846.0,339.2 845.5,340.3 845.0,341.3 844.5,342.4 844.0,343.4 843.5,344.5 843.0,345.5 842.5,346.5 842.0,347.7 841.5,349.0 841.0,350.2 840.5,351.4 840.0,352.7 839.5,353.9 839.0,355.2 838.5,356.4 838.0,357.6 837.5,358.9 837.0,360.1 836.5,361.3 836.0,362.6 835.5,363.8 835.0,365.0 834.5,366.3 834.0,366.9 833.5,366.8 833.0,366.6 832.5,366.5 832.0,366.3 831.5,366.2 831.0,366.0 830.5,365.9 830.0,365.8 829.5,365.8 829.0,365.8 828.5,365.8 828.0,365.8 827.5,365.8 827.0,365.8 826.5,365.8 826.0,365.7 825.5,364.7 825.0,363.7 824.5,362.7 824.0,361.6 823.5,360.6 823.0,359.6 822.5,358.6 822.0,357.6 821.5,357.5 821.0,357.5 820.5,357.5 820.0,357.5 819.5,357.5 819.0,357.5 818.5,357.5 818.0,357.5 817.5,357.4 817.0,357.2 816.5,357.0 816.0,356.8 815.5,356.6 815.0,356.4 814.5,356.2 814.0,356.0 813.5,355.9 813.0,355.7 812.5,355.6 812.0,355.5 811.5,355.4 811.0,355.2 810.5,355.1 810.0,355.0 809.5,354.3 809.0,352.8 808.5,351.3 808.0,349.8 807.5,348.2 807.0,346.7 806.5,345.2 806.0,343.7 805.5,342.4" fill="#e9f3ea"/><polygon points="956.5,291.3 957.0,291.3 957.5,291.3 958.0,291.3 958.5,291.3 959.0,291.3 959.5,291.3 960.0,291.3 960.5,291.2 961.0,291.0 961.5,290.9 962.0,290.7 962.5,290.6 963.0,290.4 963.5,290.2 964.0,290.1 964.5,289.9 965.0,289.7 965.5,289.6 966.0,289.5 966.5,289.4 967.0,289.4 967.5,289.3 968.0,289.2 968.5,289.2 969.0,289.1 969.5,290.3 970.0,292.0 970.5,293.6 971.0,295.3 971.5,296.9 972.0,298.6 972.5,300.2 973.0,300.5 973.5,300.3 974.0,300.1 974.5,299.9 975.0,299.6 975.5,299.4 976.0,299.2 976.5,299.0 977.0,298.7 977.5,298.5 978.0,298.2 978.5,297.9 979.0,297.7 979.5,297.4 980.0,297.3 980.5,297.4 981.0,297.6 981.5,297.7 982.0,298.1 982.5,298.6 983.0,299.9 983.5,301.2 984.0,302.5 984.5,303.9 985.0,305.2 985.5,305.5 986.0,305.5 986.5,305.5 987.0,305.7 987.5,306.2 988.0,306.8 988.5,307.4 989.0,307.9 989.5,308.5 990.0,309.0 990.5,309.5 991.0,309.3 991.5,309.2 992.0,309.0 992.5,308.9 993.0,308.8 993.5,308.6 994.0,308.5 994.5,308.3 995.0,308.2 995.5,308.0 996.0,307.9 996.5,307.7 997.0,307.6 997.5,307.5 998.0,307.3 998.5,307.2 999.0,307.0 999.5,306.9 1000.0,306.7 1000.5,306.6 1001.0,306.4 1001.5,306.3 1002.0,306.1 1002.5,305.9 1003.0,305.7 1003.5,305.5 1004.0,305.3 1004.5,305.1 1005.0,305.0 1005.5,304.9 1006.0,304.8 1006.5,304.7 1007.0,304.6 1007.5,304.6 1008.0,304.5 1008.5,304.4 1009.0,304.4 1009.5,304.4 1010.0,304.5 1010.5,304.5 1011.0,304.5 1011.5,304.5 1012.0,304.6 1012.5,304.8 1013.0,305.1 1013.5,305.3 1014.0,305.6 1014.5,305.9 1015.0,306.2 1015.5,306.5 1016.0,306.8 1016.5,307.1 1017.0,307.4 1017.5,307.7 1018.0,308.0 1018.5,308.3 1019.0,308.6 1019.5,308.9 1020.0,309.2 1020.5,309.5 1021.0,309.9 1021.5,309.8 1022.0,309.6 1022.5,309.5 1023.0,309.3 1023.5,309.1 1024.0,308.9 1024.5,308.8 1025.0,308.6 1025.5,308.4 1026.0,308.2 1026.5,308.0 1027.0,307.7 1027.5,307.3 1028.0,307.0 1028.5,306.7 1029.0,306.3 1029.5,306.0 1030.0,305.6 1030.5,305.3 1031.0,304.9 1031.5,304.6 1032.0,304.2 1032.5,303.9 1033.0,303.5 1033.5,303.2 1034.0,303.1 1034.5,303.1 1035.0,303.1 1035.5,303.1 1036.0,303.1 1036.5,303.1 1037.0,303.1 1037.5,303.1 1038.0,303.1 1038.5,303.1 1039.0,303.1 1039.5,303.1 1040.0,303.1 1040.5,303.1 1041.0,303.1 1041.5,303.1 1042.0,303.1 1042.5,303.1 1043.0,303.1 1043.5,303.1 1044.0,303.1 1044.5,303.1 1045.0,303.1 1045.5,303.1 1046.0,303.1 1046.5,303.1 1047.0,303.1 1047.5,303.1 1048.0,303.0 1048.5,303.0 1049.0,303.0 1049.5,303.0 1050.0,303.0 1050.5,303.0 1051.0,303.0 1051.5,303.0 1052.0,303.0 1052.5,303.0 1053.0,303.0 1053.5,303.0 1054.0,303.0 1054.5,303.0 1055.0,303.0 1055.5,303.0 1056.0,303.0 1056.5,303.0 1057.0,303.0 1057.5,303.0 1058.0,303.0 1058.5,303.0 1059.0,303.0 1059.5,303.0 1060.0,303.0 1060.5,303.0 1061.0,303.0 1061.5,303.0 1062.0,302.9 1062.5,302.9 1063.0,302.9 1063.5,302.9 1064.0,302.9 1064.5,302.9 1065.0,302.9 1065.5,302.9 1066.0,302.9 1066.5,302.9 1067.0,302.9 1067.5,302.9 1068.0,302.9 1068.5,302.9 1069.0,302.9 1069.5,302.9 1070.0,302.9 1070.5,302.9 1071.0,302.9 1071.5,302.9 1072.0,302.9 1072.5,302.9 1073.0,303.0 1073.5,303.1 1074.0,303.3 1074.5,303.5 1075.0,303.6 1075.5,303.8 1076.0,303.9 1076.5,304.2 1077.0,304.5 1077.5,304.8 1078.0,305.2 1078.5,305.5 1079.0,305.8 1079.5,306.1 1080.0,306.6 1080.5,307.2 1081.0,307.8 1081.5,308.4 1082.0,309.4 1082.5,310.4 1083.0,311.4 1083.5,312.5 1084.0,313.5 1084.5,314.5 1085.0,315.5 1085.5,316.1 1086.0,316.5 1086.5,316.9 1087.0,317.3 1087.5,317.7 1088.0,318.1 1088.5,318.5 1089.0,318.7 1089.5,318.9 1090.0,319.1 1090.5,319.3 1091.0,319.3 1091.5,319.3 1092.0,319.3 1092.5,319.3 1093.0,319.3 1093.5,319.3 1094.0,319.3 1094.5,319.3 1095.0,319.3 1095.5,319.3 1096.0,319.3 1096.5,319.3 1097.0,319.3 1097.5,319.3 1098.0,319.3 1098.5,319.3 1099.0,319.3 1099.5,319.3 1100.0,319.3 1100.5,319.4 1101.0,319.4 1101.5,319.4 1102.0,319.4 1102.5,319.4 1103.0,319.4 1103.5,319.4 1104.0,319.4 1104.5,319.4 1105.0,319.4 1105.5,319.4 1106.0,319.4 1106.5,319.4 1107.0,319.6 1107.5,319.8 1108.0,320.0 1108.5,320.2 1109.0,320.5 1109.5,320.7 1110.0,320.9 1110.5,321.1 1111.0,321.3 1111.5,321.5 1112.0,321.5 1112.5,321.4 1113.0,321.3 1113.5,321.2 1114.0,321.0 1114.5,320.9 1115.0,320.8 1115.5,320.7 1116.0,320.5 1116.5,320.4 1117.0,320.3 1117.5,320.2 1118.0,320.0 1118.5,319.9 1119.0,319.9 1119.5,320.0 1120.0,320.1 1120.5,320.3 1121.0,319.7 1121.5,318.5 1122.0,317.4 1122.5,316.2 1123.0,315.1 1123.5,313.9 1124.0,312.8 1124.5,311.1 1124.5,310.4 1124.0,310.4 1123.5,310.4 1123.0,310.4 1122.5,310.4 1122.0,310.4 1121.5,310.4 1121.0,310.4 1120.5,310.4 1120.0,310.4 1119.5,310.4 1119.0,310.4 1118.5,310.4 1118.0,310.4 1117.5,310.4 1117.0,310.4 1116.5,310.4 1116.0,310.4 1115.5,310.4 1115.0,310.4 1114.5,310.4 1114.0,310.4 1113.5,310.4 1113.0,310.4 1112.5,310.4 1112.0,310.5 1111.5,310.7 1111.0,310.8 1110.5,311.0 1110.0,311.1 1109.5,311.3 1109.0,311.4 1108.5,311.6 1108.0,311.7 1107.5,311.7 1107.0,311.7 1106.5,311.7 1106.0,311.7 1105.5,311.7 1105.0,311.7 1104.5,311.7 1104.0,311.7 1103.5,312.0 1103.0,312.3 1102.5,312.6 1102.0,312.9 1101.5,313.2 1101.0,313.5 1100.5,313.7 1100.0,314.0 1099.5,314.4 1099.0,314.8 1098.5,315.2 1098.0,315.6 1097.5,315.9 1097.0,316.3 1096.5,316.7 1096.0,317.1 1095.5,317.1 1095.0,317.1 1094.5,317.1 1094.0,317.1 1093.5,317.1 1093.0,317.1 1092.5,317.1 1092.0,317.1 1091.5,315.7 1091.0,313.5 1090.5,311.3 1090.0,309.0 1089.5,306.8 1089.0,304.6 1088.5,302.4 1088.0,300.2 1087.5,299.0 1087.0,299.0 1086.5,299.0 1086.0,299.0 1085.5,299.0 1085.0,299.0 1084.5,299.0 1084.0,299.0 1083.5,299.0 1083.0,299.0 1082.5,299.0 1082.0,299.0 1081.5,299.0 1081.0,299.0 1080.5,299.0 1080.0,299.0 1079.5,298.6 1079.0,295.5 1078.5,292.3 1078.0,289.1 1077.5,285.9 1077.0,282.8 1076.5,279.6 1076.0,276.4 1075.5,273.2 1075.0,272.9 1074.5,272.8 1074.0,272.6 1073.5,272.4 1073.0,272.3 1072.5,272.1 1072.0,272.0 1071.5,271.8 1071.0,271.8 1070.5,271.8 1070.0,271.8 1069.5,271.8 1069.0,271.8 1068.5,271.8 1068.0,271.8 1067.5,271.8 1067.0,271.8 1066.5,271.8 1066.0,271.8 1065.5,271.8 1065.0,271.8 1064.5,271.8 1064.0,271.8 1063.5,271.8 1063.0,271.8 1062.5,271.8 1062.0,271.8 1061.5,271.8 1061.0,271.8 1060.5,271.8 1060.0,271.8 1059.5,271.8 1059.0,271.8 1058.5,271.8 1058.0,271.8 1057.5,271.8 1057.0,271.8 1056.5,271.8 1056.0,271.8 1055.5,271.8 1055.0,271.8 1054.5,271.8 1054.0,271.8 1053.5,271.8 1053.0,271.8 1052.5,271.8 1052.0,271.8 1051.5,271.8 1051.0,271.8 1050.5,271.8 1050.0,271.8 1049.5,271.8 1049.0,271.8 1048.5,271.8 1048.0,271.8 1047.5,271.8 1047.0,271.8 1046.5,271.8 1046.0,271.8 1045.5,271.8 1045.0,271.8 1044.5,271.8 1044.0,271.8 1043.5,271.8 1043.0,271.8 1042.5,271.8 1042.0,271.8 1041.5,271.8 1041.0,271.8 1040.5,271.8 1040.0,271.8 1039.5,271.8 1039.0,271.8 1038.5,271.8 1038.0,271.8 1037.5,271.8 1037.0,271.8 1036.5,271.8 1036.0,271.8 1035.5,271.8 1035.0,271.8 1034.5,271.8 1034.0,271.8 1033.5,271.8 1033.0,271.8 1032.5,271.8 1032.0,271.8 1031.5,271.8 1031.0,271.8 1030.5,271.8 1030.0,271.8 1029.5,271.8 1029.0,271.8 1028.5,271.8 1028.0,271.8 1027.5,271.8 1027.0,271.8 1026.5,271.8 1026.0,271.8 1025.5,271.8 1025.0,271.8 1024.5,271.8 1024.0,271.8 1023.5,271.8 1023.0,271.8 1022.5,271.8 1022.0,271.8 1021.5,271.8 1021.0,271.8 1020.5,271.8 1020.0,271.8 1019.5,271.8 1019.0,271.8 1018.5,271.8 1018.0,271.8 1017.5,271.8 1017.0,271.8 1016.5,271.8 1016.0,271.8 1015.5,271.8 1015.0,271.8 1014.5,271.8 1014.0,271.8 1013.5,271.8 1013.0,271.8 1012.5,271.8 1012.0,271.8 1011.5,271.8 1011.0,271.8 1010.5,271.8 1010.0,271.8 1009.5,271.8 1009.0,271.8 1008.5,271.8 1008.0,271.8 1007.5,271.8 1007.0,271.8 1006.5,271.8 1006.0,271.8 1005.5,271.8 1005.0,271.8 1004.5,271.8 1004.0,271.8 1003.5,271.8 1003.0,271.8 1002.5,271.8 1002.0,271.8 1001.5,271.8 1001.0,271.8 1000.5,271.8 1000.0,271.8 999.5,271.8 999.0,271.8 998.5,271.8 998.0,271.8 997.5,271.8 997.0,271.8 996.5,271.8 996.0,271.8 995.5,271.8 995.0,271.8 994.5,271.8 994.0,271.8 993.5,271.8 993.0,271.8 992.5,271.8 992.0,271.8 991.5,271.8 991.0,271.8 990.5,271.8 990.0,271.8 989.5,271.8 989.0,271.8 988.5,271.8 988.0,271.8 987.5,271.8 987.0,271.8 986.5,271.8 986.0,271.8 985.5,271.8 985.0,271.8 984.5,271.8 984.0,271.8 983.5,271.8 983.0,271.8 982.5,271.8 982.0,271.8 981.5,271.8 981.0,271.8 980.5,271.8 980.0,271.8 979.5,271.8 979.0,271.8 978.5,271.8 978.0,271.8 977.5,271.8 977.0,271.8 976.5,271.8 976.0,271.8 975.5,271.8 975.0,271.8 974.5,271.8 974.0,271.8 973.5,271.8 973.0,271.8 972.5,271.8 972.0,271.8 971.5,271.8 971.0,271.8 970.5,271.8 970.0,271.8 969.5,271.8 969.0,271.8 968.5,271.8 968.0,271.8 967.5,271.8 967.0,271.8 966.5,271.8 966.0,271.8 965.5,271.8 965.0,272.0 964.5,273.3 964.0,274.5 963.5,275.8 963.0,277.1 962.5,278.4 962.0,279.6 961.5,280.9 961.0,282.2 960.5,283.3 960.0,284.5 959.5,285.6 959.0,286.7 958.5,287.8 958.0,288.9 957.5,290.1 957.0,291.2 956.5,291.5" fill="#fde9ea"/><polygon points="1124.5,311.1 1125.0,308.9 1125.5,306.7 1126.0,304.6 1126.5,302.4 1127.0,300.4 1127.5,299.4 1128.0,298.3 1128.5,297.8 1129.0,297.7 1129.5,297.6 1130.0,297.6 1130.5,297.5 1131.0,297.4 1131.5,297.4 1132.0,297.3 1132.5,297.2 1133.0,297.2 1133.5,297.1 1134.0,297.0 1134.5,296.9 1135.0,296.9 1135.5,296.8 1136.0,296.7 1136.5,296.7 1137.0,296.7 1137.5,296.7 1138.0,296.7 1138.5,296.7 1139.0,296.7 1139.5,296.7 1140.0,296.7 1140.5,296.7 1141.0,296.7 1141.5,296.7 1142.0,296.7 1142.5,296.7 1143.0,296.7 1143.5,296.7 1144.0,296.7 1144.5,296.7 1145.0,296.7 1145.5,296.7 1146.0,296.7 1146.5,296.7 1147.0,296.7 1147.5,296.7 1148.0,296.7 1148.5,295.7 1149.0,293.9 1149.5,292.1 1150.0,290.3 1150.5,288.5 1151.0,286.7 1151.5,284.9 1152.0,283.1 1152.5,281.6 1153.0,280.2 1153.5,278.9 1154.0,278.0 1154.5,277.1 1155.0,276.2 1155.5,275.3 1156.0,274.5 1156.5,273.6 1157.0,272.7 1157.5,271.8 1158.0,271.1 1158.5,270.5 1159.0,269.8 1159.5,269.2 1160.0,268.5 1160.5,267.9 1161.0,267.2 1161.5,266.6 1162.0,265.9 1162.5,265.3 1163.0,264.6 1163.5,264.0 1164.0,263.3 1164.5,262.7 1165.0,262.0 1165.5,261.4 1166.0,261.3 1166.5,261.3 1167.0,261.2 1167.5,261.2 1168.0,261.1 1168.5,261.1 1169.0,261.1 1169.5,261.0 1170.0,261.0 1170.5,260.9 1171.0,260.8 1171.5,260.3 1172.0,259.7 1172.5,259.2 1173.0,258.7 1173.5,258.1 1174.0,257.2 1174.5,256.3 1175.0,255.3 1175.5,254.4 1176.0,253.4 1176.5,252.5 1177.0,251.5 1177.5,250.6 1178.0,249.6 1178.5,248.7 1179.0,247.7 1179.5,246.9 1180.0,246.0 1180.5,245.4 1181.0,244.8 1181.5,244.3 1182.0,243.8 1182.5,243.3 1183.0,242.8 1183.5,242.3 1184.0,241.8 1184.5,241.3 1185.0,240.8 1185.5,240.2 1186.0,239.7 1186.5,239.2 1187.0,238.7 1187.5,237.9 1188.0,237.1 1188.5,236.3 1189.0,235.5 1189.5,234.7 1190.0,234.3 1190.5,234.0 1191.0,233.6 1191.5,233.2 1192.0,232.8 1192.5,232.5 1193.0,232.1 1193.5,231.7 1194.0,231.3 1194.5,231.0 1195.0,230.6 1195.5,230.6 1196.0,230.5 1196.5,230.4 1197.0,230.3 1197.5,230.2 1198.0,230.1 1198.5,230.0 1199.0,230.0 1199.5,229.9 1200.0,229.8 1200.5,229.7 1201.0,229.6 1201.5,229.5 1202.0,229.5 1202.5,229.4 1203.0,229.3 1203.5,229.2 1204.0,229.2 1204.5,229.1 1205.0,229.0 1205.5,229.0 1206.0,228.9 1206.5,228.9 1207.0,228.8 1207.5,228.7 1208.0,228.7 1208.5,228.6 1209.0,228.5 1209.5,228.5 1210.0,228.4 1210.5,228.4 1211.0,228.3 1211.5,228.2 1212.0,228.2 1212.5,228.1 1213.0,228.0 1213.5,228.0 1214.0,227.9 1214.5,227.9 1215.0,227.8 1215.5,227.7 1216.0,227.7 1216.5,227.6 1217.0,227.5 1217.5,227.5 1218.0,227.9 1218.5,228.3 1219.0,228.7 1219.5,228.8 1220.0,228.8 1220.5,228.9 1221.0,228.9 1221.5,229.0 1222.0,229.0 1222.5,229.1 1223.0,229.2 1223.5,229.3 1224.0,229.4 1224.5,229.6 1225.0,229.8 1225.5,230.1 1226.0,230.3 1226.5,230.6 1227.0,230.8 1227.5,231.1 1228.0,231.3 1228.5,231.6 1229.0,231.8 1229.5,232.1 1230.0,232.3 1230.5,232.6 1231.0,233.4 1231.5,234.4 1232.0,235.4 1232.5,236.4 1233.0,237.4 1233.5,238.4 1234.0,239.4 1234.5,240.4 1235.0,241.3 1235.5,242.3 1236.0,243.3 1236.5,244.3 1237.0,245.1 1237.5,246.0 1238.0,246.9 1238.5,247.7 1239.0,248.6 1239.5,249.1 1240.0,249.3 1240.5,249.6 1241.0,249.9 1241.5,250.2 1242.0,250.4 1242.5,250.6 1243.0,250.8 1243.5,250.9 1244.0,251.1 1244.5,251.2 1245.0,251.4 1245.5,251.5 1246.0,251.7 1246.5,251.8 1247.0,252.0 1247.5,252.1 1248.0,252.3 1248.5,252.4 1249.0,252.6 1249.5,252.7 1250.0,252.9 1250.5,253.1 1251.0,253.5 1251.5,253.9 1252.0,254.2 1252.5,254.6 1253.0,255.0 1253.5,255.3 1254.0,255.7 1254.5,256.1 1255.0,256.5 1255.5,256.8 1256.0,257.2 1256.5,257.6 1257.0,257.9 1257.5,258.3 1258.0,258.7 1258.5,259.0 1259.0,259.4 1259.5,259.6 1260.0,259.9 1260.5,260.1 1261.0,260.4 1261.5,260.6 1262.0,260.9 1262.5,261.1 1263.0,261.3 1263.5,261.6 1263.5,261.6 1263.0,261.6 1262.5,261.6 1262.0,261.6 1261.5,261.6 1261.0,261.6 1260.5,261.6 1260.0,261.6 1259.5,261.6 1259.0,261.6 1258.5,261.6 1258.0,261.6 1257.5,261.6 1257.0,261.6 1256.5,261.6 1256.0,261.6 1255.5,261.6 1255.0,261.6 1254.5,261.6 1254.0,261.6 1253.5,261.6 1253.0,261.6 1252.5,261.6 1252.0,261.6 1251.5,261.6 1251.0,261.6 1250.5,261.6 1250.0,261.6 1249.5,261.6 1249.0,261.6 1248.5,261.6 1248.0,261.6 1247.5,261.6 1247.0,261.6 1246.5,261.6 1246.0,261.6 1245.5,261.6 1245.0,261.6 1244.5,261.6 1244.0,261.6 1243.5,261.6 1243.0,261.6 1242.5,261.6 1242.0,261.6 1241.5,261.6 1241.0,261.6 1240.5,261.6 1240.0,261.6 1239.5,261.6 1239.0,261.6 1238.5,261.6 1238.0,261.6 1237.5,261.6 1237.0,261.6 1236.5,261.6 1236.0,261.6 1235.5,261.6 1235.0,261.6 1234.5,261.6 1234.0,261.6 1233.5,261.6 1233.0,261.6 1232.5,261.6 1232.0,261.6 1231.5,261.6 1231.0,261.6 1230.5,261.6 1230.0,261.6 1229.5,261.6 1229.0,261.6 1228.5,261.6 1228.0,261.6 1227.5,261.6 1227.0,261.6 1226.5,261.6 1226.0,261.6 1225.5,261.6 1225.0,261.6 1224.5,261.6 1224.0,261.6 1223.5,261.6 1223.0,261.6 1222.5,261.6 1222.0,261.6 1221.5,261.6 1221.0,261.6 1220.5,261.6 1220.0,261.6 1219.5,261.6 1219.0,261.6 1218.5,261.6 1218.0,261.6 1217.5,261.6 1217.0,261.6 1216.5,261.6 1216.0,261.6 1215.5,261.6 1215.0,261.6 1214.5,261.6 1214.0,261.6 1213.5,261.6 1213.0,261.6 1212.5,261.6 1212.0,261.6 1211.5,261.6 1211.0,261.6 1210.5,261.6 1210.0,261.6 1209.5,261.6 1209.0,261.6 1208.5,261.6 1208.0,261.6 1207.5,261.6 1207.0,261.6 1206.5,261.6 1206.0,261.6 1205.5,261.6 1205.0,261.6 1204.5,261.6 1204.0,261.6 1203.5,261.6 1203.0,261.6 1202.5,261.6 1202.0,261.6 1201.5,261.6 1201.0,261.6 1200.5,261.6 1200.0,261.6 1199.5,261.6 1199.0,261.6 1198.5,261.6 1198.0,261.6 1197.5,261.6 1197.0,261.6 1196.5,261.6 1196.0,261.6 1195.5,261.6 1195.0,261.6 1194.5,261.6 1194.0,261.6 1193.5,261.6 1193.0,261.6 1192.5,261.6 1192.0,261.6 1191.5,261.6 1191.0,261.6 1190.5,261.6 1190.0,261.6 1189.5,262.0 1189.0,262.4 1188.5,262.8 1188.0,263.2 1187.5,263.7 1187.0,264.1 1186.5,264.5 1186.0,264.9 1185.5,265.0 1185.0,265.0 1184.5,265.0 1184.0,265.0 1183.5,265.0 1183.0,265.0 1182.5,265.0 1182.0,265.0 1181.5,265.3 1181.0,265.9 1180.5,266.4 1180.0,267.0 1179.5,267.6 1179.0,268.2 1178.5,268.7 1178.0,269.3 1177.5,270.1 1177.0,271.3 1176.5,272.6 1176.0,273.8 1175.5,275.0 1175.0,276.2 1174.5,277.5 1174.0,278.7 1173.5,279.6 1173.0,279.6 1172.5,279.6 1172.0,279.6 1171.5,279.6 1171.0,279.6 1170.5,279.6 1170.0,279.6 1169.5,279.6 1169.0,279.6 1168.5,279.6 1168.0,279.6 1167.5,279.6 1167.0,279.6 1166.5,279.6 1166.0,279.6 1165.5,279.6 1165.0,280.2 1164.5,280.9 1164.0,281.5 1163.5,282.2 1163.0,282.8 1162.5,283.5 1162.0,284.1 1161.5,284.8 1161.0,285.3 1160.5,285.8 1160.0,286.3 1159.5,286.8 1159.0,287.3 1158.5,287.8 1158.0,288.2 1157.5,288.7 1157.0,289.0 1156.5,289.1 1156.0,289.2 1155.5,289.3 1155.0,289.3 1154.5,289.4 1154.0,289.5 1153.5,289.6 1153.0,290.1 1152.5,291.6 1152.0,293.1 1151.5,294.5 1151.0,296.0 1150.5,297.5 1150.0,298.9 1149.5,300.4 1149.0,301.7 1148.5,301.7 1148.0,301.8 1147.5,301.9 1147.0,302.0 1146.5,302.1 1146.0,302.1 1145.5,302.2 1145.0,302.3 1144.5,302.3 1144.0,302.3 1143.5,302.3 1143.0,302.3 1142.5,302.3 1142.0,302.3 1141.5,302.3 1141.0,302.3 1140.5,302.3 1140.0,302.3 1139.5,302.3 1139.0,302.3 1138.5,302.3 1138.0,302.3 1137.5,302.3 1137.0,302.3 1136.5,302.3 1136.0,302.3 1135.5,302.3 1135.0,302.3 1134.5,302.3 1134.0,302.3 1133.5,302.3 1133.0,302.3 1132.5,302.3 1132.0,302.3 1131.5,302.3 1131.0,302.3 1130.5,302.3 1130.0,302.3 1129.5,302.3 1129.0,302.3 1128.5,302.6 1128.0,303.6 1127.5,304.5 1127.0,305.5 1126.5,306.5 1126.0,307.5 1125.5,308.5 1125.0,309.5 1124.5,310.4" fill="#e9f3ea"/><polygon points="1263.5,261.6 1264.0,261.8 1264.5,262.1 1265.0,262.2 1265.5,262.4 1266.0,262.6 1266.5,262.8 1267.0,263.0 1267.5,263.1 1268.0,263.3 1268.5,263.5 1269.0,263.7 1269.5,263.8 1270.0,264.0 1270.5,264.2 1271.0,264.4 1271.5,264.5 1272.0,265.1 1272.5,265.6 1273.0,266.2 1273.5,266.8 1274.0,267.3 1274.5,267.8 1275.0,268.2 1275.5,268.6 1276.0,268.8 1276.5,268.9 1277.0,269.1 1277.5,269.2 1278.0,269.4 1278.5,269.6 1279.0,269.7 1279.5,269.9 1280.0,269.9 1280.5,269.9 1281.0,269.9 1281.5,269.9 1282.0,269.9 1282.5,269.9 1283.0,269.9 1283.5,269.9 1284.0,269.9 1284.5,269.9 1285.0,269.9 1285.5,269.9 1286.0,269.9 1286.5,269.9 1287.0,269.9 1287.5,269.9 1288.0,269.9 1288.5,269.9 1289.0,269.9 1289.5,269.9 1290.0,270.0 1290.5,270.1 1291.0,270.2 1291.5,270.3 1292.0,270.8 1292.5,271.2 1293.0,271.6 1293.5,272.0 1294.0,272.4 1294.5,272.9 1295.0,273.3 1295.5,273.7 1296.0,273.9 1296.5,274.0 1297.0,274.2 1297.5,274.3 1298.0,274.5 1298.5,274.6 1299.0,274.7 1299.5,274.8 1300.0,274.9 1300.5,274.9 1301.0,275.1 1301.5,275.5 1302.0,275.9 1302.5,276.4 1303.0,276.8 1303.5,277.2 1304.0,277.6 1304.5,278.1 1305.0,278.8 1305.5,282.1 1306.0,286.0 1306.5,290.0 1307.0,294.8 1307.5,300.3 1308.0,305.9 1308.5,312.8 1309.0,318.9 1309.5,324.2 1310.0,325.3 1310.5,326.3 1311.0,327.4 1311.5,328.4 1312.0,329.5 1312.5,329.9 1313.0,329.9 1313.5,329.9 1314.0,329.9 1314.5,329.9 1315.0,330.0 1315.5,330.0 1316.0,330.0 1316.5,330.0 1317.0,330.1 1317.5,330.1 1318.0,330.1 1318.5,330.1 1319.0,330.1 1319.5,330.4 1320.0,330.8 1320.5,331.2 1321.0,331.6 1321.5,331.9 1322.0,332.3 1322.5,332.7 1323.0,333.1 1323.5,333.5 1324.0,333.8 1324.5,334.2 1325.0,334.6 1325.5,335.0 1326.0,335.5 1326.5,336.1 1327.0,336.6 1327.5,337.1 1328.0,337.6 1328.5,338.1 1329.0,338.6 1329.5,339.1 1330.0,339.7 1330.5,340.2 1331.0,340.7 1331.5,341.3 1332.0,341.9 1332.5,342.4 1333.0,343.0 1333.5,343.4 1334.0,343.5 1334.5,343.6 1335.0,343.7 1335.5,344.0 1336.0,344.4 1336.5,344.8 1337.0,345.2 1337.5,345.5 1338.0,345.9 1338.5,346.3 1339.0,346.7 1339.5,347.1 1340.0,347.4 1340.5,347.8 1341.0,348.2 1341.5,348.5 1342.0,348.9 1342.5,349.2 1343.0,349.6 1343.5,350.0 1344.0,350.3 1344.5,350.7 1345.0,351.0 1345.5,351.4 1346.0,351.8 1346.5,352.1 1347.0,352.0 1347.5,351.8 1348.0,351.5 1348.5,351.3 1349.0,351.0 1349.5,350.8 1350.0,350.5 1350.5,350.3 1351.0,350.0 1351.5,349.9 1352.0,349.8 1352.5,349.7 1353.0,349.6 1353.5,349.5 1354.0,349.4 1354.5,349.3 1355.0,349.2 1355.5,349.1 1356.0,349.3 1356.5,349.4 1357.0,349.6 1357.5,349.8 1358.0,350.0 1358.5,350.2 1359.0,350.3 1359.5,350.5 1360.0,350.7 1360.5,350.9 1361.0,351.0 1361.5,351.2 1362.0,351.3 1362.5,351.4 1363.0,351.4 1363.5,351.4 1364.0,351.5 1364.5,351.5 1365.0,351.4 1365.5,351.3 1366.0,351.3 1366.5,351.2 1367.0,351.1 1367.5,351.0 1368.0,351.0 1368.5,350.9 1369.0,350.8 1369.5,350.7 1370.0,350.7 1370.5,350.6 1371.0,350.5 1371.5,350.4 1372.0,350.4 1372.5,350.3 1373.0,350.2 1373.5,350.2 1374.0,350.2 1374.5,350.2 1375.0,350.1 1375.5,350.0 1376.0,349.9 1376.5,349.9 1377.0,349.8 1377.5,349.7 1378.0,349.6 1378.5,349.5 1379.0,349.3 1379.5,349.1 1380.0,348.9 1380.5,348.6 1381.0,348.4 1381.5,348.2 1382.0,348.0 1382.5,347.8 1383.0,347.6 1383.5,347.4 1384.0,347.2 1384.5,346.9 1385.0,346.7 1385.5,346.5 1386.0,346.3 1386.5,346.1 1387.0,345.9 1387.5,345.7 1388.0,345.5 1388.5,345.3 1389.0,345.1 1389.5,345.0 1390.0,345.0 1390.5,345.0 1391.0,345.0 1391.5,345.0 1392.0,345.1 1392.5,345.1 1393.0,345.1 1393.5,345.1 1394.0,345.1 1394.5,345.1 1395.0,345.2 1395.5,345.2 1396.0,345.2 1396.5,345.2 1397.0,345.2 1397.5,345.2 1398.0,345.3 1398.5,345.3 1399.0,345.3 1399.5,345.3 1400.0,345.3 1400.5,345.3 1401.0,345.4 1401.5,345.4 1402.0,345.4 1402.5,345.4 1403.0,345.4 1403.5,345.4 1404.0,345.5 1404.5,345.5 1405.0,345.5 1405.5,345.7 1406.0,346.0 1406.5,346.4 1407.0,346.7 1407.5,347.1 1408.0,347.4 1408.5,347.8 1409.0,348.3 1409.5,349.1 1410.0,349.9 1410.5,350.8 1411.0,351.7 1411.5,352.6 1412.0,353.5 1412.5,354.4 1413.0,355.3 1413.5,356.0 1414.0,356.5 1414.5,356.6 1415.0,356.5 1415.5,356.4 1416.0,356.3 1416.5,356.2 1417.0,356.0 1417.5,355.9 1418.0,355.6 1418.5,355.2 1419.0,354.7 1419.5,354.2 1420.0,353.9 1420.5,353.7 1421.0,353.4 1421.5,353.1 1422.0,352.8 1422.5,352.5 1423.0,352.2 1423.5,352.0 1424.0,351.9 1424.5,351.8 1425.0,351.7 1425.5,351.6 1426.0,351.4 1426.5,351.3 1427.0,351.3 1427.5,351.3 1428.0,351.2 1428.5,351.2 1429.0,351.2 1429.5,351.2 1430.0,351.1 1430.5,351.1 1431.0,351.1 1431.0,320.3 1430.5,319.7 1430.0,319.1 1429.5,318.6 1429.0,318.0 1428.5,317.4 1428.0,316.8 1427.5,316.3 1427.0,315.8 1426.5,315.5 1426.0,315.3 1425.5,315.1 1425.0,314.8 1424.5,314.6 1424.0,314.3 1423.5,314.1 1423.0,313.8 1422.5,313.8 1422.0,313.8 1421.5,313.8 1421.0,313.8 1420.5,313.8 1420.0,313.8 1419.5,313.8 1419.0,313.8 1418.5,313.8 1418.0,313.8 1417.5,313.8 1417.0,313.8 1416.5,313.8 1416.0,313.8 1415.5,313.8 1415.0,313.8 1414.5,312.4 1414.0,310.4 1413.5,308.3 1413.0,306.3 1412.5,304.2 1412.0,302.2 1411.5,300.2 1411.0,298.1 1410.5,296.9 1410.0,296.4 1409.5,295.9 1409.0,295.5 1408.5,295.0 1408.0,294.5 1407.5,294.0 1407.0,293.5 1406.5,293.1 1406.0,292.8 1405.5,292.6 1405.0,292.4 1404.5,292.1 1404.0,291.9 1403.5,291.6 1403.0,291.4 1402.5,291.1 1402.0,290.5 1401.5,289.9 1401.0,289.4 1400.5,288.8 1400.0,288.2 1399.5,287.7 1399.0,287.1 1398.5,286.5 1398.0,286.5 1397.5,286.5 1397.0,286.5 1396.5,286.5 1396.0,286.5 1395.5,286.5 1395.0,286.5 1394.5,286.5 1394.0,286.5 1393.5,286.5 1393.0,286.5 1392.5,286.5 1392.0,286.5 1391.5,286.5 1391.0,286.5 1390.5,286.5 1390.0,286.5 1389.5,286.5 1389.0,286.5 1388.5,286.5 1388.0,286.5 1387.5,286.5 1387.0,286.5 1386.5,286.5 1386.0,286.5 1385.5,286.5 1385.0,286.5 1384.5,286.5 1384.0,286.5 1383.5,286.5 1383.0,286.5 1382.5,286.5 1382.0,286.5 1381.5,286.5 1381.0,286.5 1380.5,286.5 1380.0,286.5 1379.5,286.5 1379.0,286.5 1378.5,286.5 1378.0,286.5 1377.5,286.5 1377.0,286.5 1376.5,286.5 1376.0,286.5 1375.5,286.5 1375.0,286.5 1374.5,286.5 1374.0,286.5 1373.5,286.5 1373.0,286.5 1372.5,286.5 1372.0,286.5 1371.5,286.5 1371.0,286.5 1370.5,286.5 1370.0,286.5 1369.5,286.5 1369.0,286.5 1368.5,286.5 1368.0,286.5 1367.5,286.5 1367.0,286.5 1366.5,286.5 1366.0,286.5 1365.5,286.5 1365.0,286.5 1364.5,286.5 1364.0,286.5 1363.5,286.5 1363.0,286.5 1362.5,286.5 1362.0,286.5 1361.5,286.5 1361.0,286.5 1360.5,286.5 1360.0,286.5 1359.5,286.5 1359.0,286.5 1358.5,286.5 1358.0,286.5 1357.5,286.5 1357.0,286.5 1356.5,286.5 1356.0,286.5 1355.5,286.5 1355.0,286.5 1354.5,286.5 1354.0,286.5 1353.5,286.5 1353.0,286.5 1352.5,286.5 1352.0,286.5 1351.5,286.5 1351.0,286.5 1350.5,286.5 1350.0,286.5 1349.5,286.5 1349.0,286.5 1348.5,286.5 1348.0,286.5 1347.5,286.5 1347.0,286.5 1346.5,286.5 1346.0,286.5 1345.5,286.5 1345.0,286.5 1344.5,286.5 1344.0,286.5 1343.5,286.5 1343.0,286.5 1342.5,286.5 1342.0,286.5 1341.5,286.5 1341.0,286.5 1340.5,286.5 1340.0,286.5 1339.5,286.5 1339.0,286.5 1338.5,286.5 1338.0,286.5 1337.5,286.5 1337.0,286.5 1336.5,286.5 1336.0,286.5 1335.5,286.5 1335.0,286.5 1334.5,286.5 1334.0,286.5 1333.5,286.5 1333.0,286.5 1332.5,286.5 1332.0,286.5 1331.5,286.5 1331.0,286.5 1330.5,286.5 1330.0,286.5 1329.5,286.5 1329.0,286.5 1328.5,286.5 1328.0,286.5 1327.5,286.5 1327.0,286.5 1326.5,286.5 1326.0,286.5 1325.5,286.5 1325.0,286.5 1324.5,286.5 1324.0,286.5 1323.5,286.5 1323.0,286.5 1322.5,286.5 1322.0,286.5 1321.5,286.5 1321.0,286.5 1320.5,286.5 1320.0,286.5 1319.5,286.5 1319.0,286.5 1318.5,286.5 1318.0,286.5 1317.5,286.5 1317.0,286.5 1316.5,286.5 1316.0,286.5 1315.5,286.5 1315.0,286.5 1314.5,286.5 1314.0,286.5 1313.5,286.5 1313.0,286.5 1312.5,286.0 1312.0,283.9 1311.5,281.8 1311.0,279.8 1310.5,277.7 1310.0,275.7 1309.5,273.6 1309.0,271.5 1308.5,269.5 1308.0,267.5 1307.5,265.4 1307.0,263.4 1306.5,261.4 1306.0,259.4 1305.5,257.4 1305.0,255.4 1304.5,253.4 1304.0,253.2 1303.5,253.2 1303.0,253.2 1302.5,253.2 1302.0,253.2 1301.5,253.2 1301.0,253.2 1300.5,253.2 1300.0,254.0 1299.5,255.0 1299.0,256.0 1298.5,257.1 1298.0,258.1 1297.5,259.1 1297.0,260.2 1296.5,261.2 1296.0,261.6 1295.5,261.6 1295.0,261.6 1294.5,261.6 1294.0,261.6 1293.5,261.6 1293.0,261.6 1292.5,261.6 1292.0,261.6 1291.5,261.6 1291.0,261.6 1290.5,261.6 1290.0,261.6 1289.5,261.6 1289.0,261.6 1288.5,261.6 1288.0,261.6 1287.5,261.6 1287.0,261.6 1286.5,261.6 1286.0,261.6 1285.5,261.6 1285.0,261.6 1284.5,261.6 1284.0,261.6 1283.5,261.6 1283.0,261.6 1282.5,261.6 1282.0,261.6 1281.5,261.6 1281.0,261.6 1280.5,261.6 1280.0,261.6 1279.5,261.6 1279.0,261.6 1278.5,261.6 1278.0,261.6 1277.5,261.6 1277.0,261.6 1276.5,261.6 1276.0,261.6 1275.5,261.6 1275.0,261.6 1274.5,261.6 1274.0,261.6 1273.5,261.6 1273.0,261.6 1272.5,261.6 1272.0,261.6 1271.5,261.6 1271.0,261.6 1270.5,261.6 1270.0,261.6 1269.5,261.6 1269.0,261.6 1268.5,261.6 1268.0,261.6 1267.5,261.6 1267.0,261.6 1266.5,261.6 1266.0,261.6 1265.5,261.6 1265.0,261.6 1264.5,261.6 1264.0,261.6 1263.5,261.6" fill="#fde9ea"/>
<polygon points="331,13 342.7,13 595.9,334.6 595.9,482.7 331,146.3" fill="#2962ff" fill-opacity="0.21"/>
<line x1="331" y1="146.3" x2="595.9" y2="482.7" stroke="#43a047" stroke-width="1.5"/>
<line x1="331" y1="-2.8" x2="595.9" y2="334.6" stroke="#43a047" stroke-width="1.5"/>
<line x1="331" y1="71.7" x2="595.9" y2="408.6" stroke="#2962ff" stroke-width="1.3" stroke-dasharray="5,5"/>
<polygon points="1141,263.6 1207,294 1207,334.8 1141,304.4" fill="#2962ff" fill-opacity="0.21"/>
<line x1="1141" y1="263.6" x2="1210" y2="296" stroke="#43a047" stroke-width="1.5"/>
<line x1="1141" y1="304.4" x2="1207" y2="334.8" stroke="#43a047" stroke-width="1.5"/>
<line x1="1141" y1="284" x2="1207" y2="314.4" stroke="#2962ff" stroke-width="1.3" stroke-dasharray="5,5"/>
<polyline points="13.0,394.2 39.1,388.0 65.2,379.0 97.8,367.6 130.4,350.5 163.0,338.3 182.6,326.9 200.0,319.6 218.9,307.0 263.3,287.7 307.7,271.4 352.2,255.2 396.6,240.3 426.2,232.9 460.0,229.4 498.2,225.2 519.0,224.6 541.0,226.9 580.0,232.1 600.7,236.9 621.5,241.5 642.2,243.5 663.0,244.6 683.7,245.6 704.4,245.6 735.5,242.5 766.6,238.4 787.4,238.2 808.1,238.4 849.6,239.8 900.0,242.5 952.7,250.0 981.1,255.3 1020.0,262.4 1050.0,265.3 1090.0,268.0 1116.7,272.0 1148.1,279.0 1176.3,286.1 1205.3,292.7 1226.6,298.0 1253.3,305.1 1288.8,308.7 1328.7,314.0" fill="none" stroke="#000000" stroke-width="1.5" stroke-linejoin="round" stroke-linecap="round" />
<polyline points="13.0,302.1 50.5,298.3 89.1,291.5 130.0,285.7 159.6,275.9 189.2,264.0 218.9,253.7 248.5,243.3 278.1,232.9 307.7,216.6 337.3,200.4 367.0,184.1 396.6,172.2 426.2,163.3 460.0,160.4 487.7,159.3 523.0,164.7 566.0,186.0 588.3,200.0 621.5,218.7 655.5,240.0 682.3,252.7 718.9,268.2 752.7,280.8 775.2,289.3 800.0,299.0 810.0,303.3 827.8,310.4 845.5,316.6 863.3,319.3 881.0,321.0 898.9,324.6 920.0,328.2 927.8,327.0 945.5,326.4 974.0,322.0 990.0,316.6 1009.5,312.2 1023.3,308.0 1050.0,296.0 1076.7,286.7 1103.3,280.0 1130.0,278.7 1162.2,283.3 1190.3,287.5 1204.4,287.0 1232.0,290.0 1271.0,294.4 1306.6,298.9 1328.7,299.8" fill="none" stroke="#2196f3" stroke-width="1.3" stroke-linejoin="round" stroke-linecap="round" />
<polyline points="13.0,303.0 31.3,301.2 40.9,299.2 50.5,296.3 60.2,292.5 69.8,287.7 79.4,282.9 89.1,277.1 98.7,270.3 108.3,263.6 119.9,255.9 132.0,249.1 158.6,224.2 173.2,219.5 188.6,207.0 202.1,203.0 222.4,193.9 251.5,184.6 272.2,177.3 290.9,170.0 307.5,156.6 330.3,143.1 338.3,136.7 346.6,135.7 363.2,135.7 381.8,137.8 402.6,139.8 423.3,140.9 437.8,142.9 448.2,155.4 470.0,171.8 485.8,180.0 504.5,188.3 519.0,198.7 541.0,225.0 569.5,257.0 597.3,300.0 614.0,320.7 631.0,337.6 645.0,344.6 660.0,345.9 685.2,342.1 697.8,340.8 723.0,327.0 735.6,318.2 748.2,303.0 760.0,293.0 774.6,288.1 784.0,292.8 799.5,297.5 820.0,303.3 845.5,304.2 863.3,305.1 875.8,300.6 881.0,301.5 920.0,304.2 974.0,302.4 990.0,304.2 1009.5,306.9 1036.7,301.3 1058.0,284.0 1074.0,272.0 1090.0,262.7 1100.7,260.0 1116.7,257.3 1130.0,258.5 1148.1,263.6 1176.3,270.6 1198.8,279.0 1214.2,290.0 1226.6,297.1 1248.0,313.1 1271.0,318.4 1288.8,323.8 1306.6,327.3 1324.4,328.2 1328.7,329.0" fill="none" stroke="#f57c00" stroke-width="1.3" stroke-linejoin="round" stroke-linecap="round" />
<polyline points="13.0,318.5 40.9,318.5 43.8,316.6 51.5,315.6 55.4,310.8 60.2,305.0 65.0,302.1 69.8,288.6 73.7,282.9 81.4,277.1 87.1,272.3 90.0,266.5 94.9,264.5 97.7,261.7 102.6,252.0 110.3,250.5 116.0,245.3 122.8,243.4 127.6,239.5 132.0,234.7 135.6,228.0 138.5,223.3 142.4,221.4 147.2,212.7 155.9,211.4 160.7,206.0 165.5,204.0 176.1,193.4 184.8,187.7 190.6,185.7 199.2,171.3 206.9,163.6 211.8,161.3 216.2,156.6 290.9,156.6 295.0,144.2 301.2,138.0 305.4,131.7 310.6,123.4 339.3,123.2 342.4,120.0 360.0,116.0 367.3,112.9 371.5,111.8 403.6,111.8 407.8,117.0 432.6,117.0 434.7,126.3 437.8,138.8 443.0,147.0 445.0,167.8 448.4,199.0 451.6,199.7 458.8,206.0 469.2,206.0 473.3,216.3 520.0,217.3 523.1,243.3 536.0,245.4 548.7,293.2 570.7,293.2 573.3,300.0 582.7,312.0 592.0,341.3 597.3,342.7 600.0,353.3 610.7,356.0 616.0,365.3 620.0,366.0 625.4,377.0 628.2,405.2 638.0,406.6 642.3,412.3 656.9,411.8 667.6,398.8 675.1,395.0 685.2,394.2 692.7,393.7 697.8,378.6 702.8,368.5 709.1,366.0 715.4,361.0 719.2,349.6 733.0,348.4 738.1,328.2 743.1,305.6 746.9,300.5 751.9,289.2 755.7,277.9 760.0,270.3 761.1,268.2 775.2,259.7 780.8,261.1 785.1,272.4 863.3,272.2 866.9,273.1 870.4,298.0 877.5,298.9 880.2,303.3 882.9,317.5 888.2,317.5 895.3,312.2 902.4,306.9 909.5,304.2 974.0,303.3 979.3,306.9 982.9,315.8 986.4,318.4 1022.0,318.7 1026.0,302.7 1046.0,302.7 1051.3,289.3 1063.3,280.0 1071.3,278.7 1078.0,266.7 1084.7,264.0 1092.7,252.0 1100.7,249.3 1116.7,245.3 1122.0,236.0 1128.4,228.4 1134.0,234.0 1139.7,236.9 1169.3,236.5 1173.3,242.7 1177.3,245.3 1189.3,245.3 1193.3,250.0 1198.7,250.7 1202.7,256.7 1204.5,275.0 1206.0,300.0 1207.2,310.0 1209.8,313.1 1216.9,313.1 1223.1,322.0 1231.1,337.1 1253.3,337.1 1259.5,341.5 1271.1,343.3 1276.4,346.8 1303.0,348.6 1307.5,354.8 1312.0,362.8 1317.2,359.3 1328.7,359.3" fill="none" stroke="#801922" stroke-width="3" stroke-linejoin="round" stroke-linecap="round" />
<polyline points="13.0,291.5 15.9,288.6 23.6,284.8 28.4,285.7 31.3,288.6 40.9,289.0 50.5,287.7 56.3,281.0 61.1,276.1 66.0,274.2 69.8,268.4 73.7,267.4 77.5,257.8 84.3,255.9 89.1,246.2 92.9,242.4 96.8,241.4 102.6,231.8 106.4,223.1 113.2,217.3 121.8,214.5 126.0,205.0 130.8,192.5 134.7,188.6 138.5,178.0 145.3,176.1 150.5,167.4 155.9,166.5 162.6,166.5 167.4,163.6 173.2,159.7 179.0,159.7 182.9,151.0 187.7,146.2 191.5,155.9 219.5,155.9 221.4,156.6 229.7,167.0 234.9,165.0 251.5,157.6 263.9,156.6 270.1,155.6 276.3,150.4 281.5,144.2 290.9,144.2 295.0,129.6 301.2,125.5 305.4,118.2 311.6,104.8 318.9,99.6 326.1,98.5 330.3,86.1 335.4,78.8 340.4,82.8 342.4,110.8 366.3,111.8 374.6,118.0 378.7,133.6 400.5,134.6 406.7,149.2 408.8,151.2 432.6,151.2 435.7,159.5 439.9,172.0 442.5,207.0 452.6,210.0 458.8,217.3 465.0,217.3 472.3,227.7 477.5,249.5 491.0,249.5 498.2,239.1 506.5,220.5 511.7,230.8 515.9,232.9 520.0,242.2 523.1,277.5 527.3,281.7 532.5,293.0 537.3,300.0 538.7,308.0 549.3,320.0 553.3,324.0 556.0,333.3 558.7,356.0 564.0,366.7 572.0,378.7 577.3,381.3 582.7,389.3 592.0,409.3 594.7,412.0 604.0,412.0 606.7,417.3 610.7,425.3 614.7,445.3 625.4,446.0 629.6,437.6 636.6,416.5 646.5,415.0 649.3,399.6 657.7,396.8 660.0,391.2 665.0,383.7 670.1,368.5 675.1,359.7 678.9,358.5 685.2,340.8 687.7,334.5 695.3,330.8 700.3,320.7 704.1,315.6 709.1,314.4 714.2,309.3 720.5,300.5 729.3,298.0 733.0,287.9 735.6,265.3 738.1,255.2 745.6,240.1 753.2,233.8 760.4,225.9 770.8,228.0 777.0,243.5 784.3,271.5 796.7,272.6 800.9,297.5 809.2,298.5 812.7,337.1 826.0,319.3 829.5,316.6 838.4,313.1 845.5,310.4 858.0,310.4 863.3,306.9 870.4,303.3 874.0,299.8 879.3,293.5 884.6,293.5 888.2,301.5 898.9,303.3 906.0,303.3 910.0,305.0 915.3,311.3 918.9,315.8 924.2,312.2 931.3,302.4 970.4,302.4 977.5,306.9 982.9,315.8 988.2,320.2 1004.2,320.2 1009.5,324.6 1016.6,321.0 1018.5,322.0 1024.7,293.3 1034.0,290.7 1046.0,290.7 1050.0,272.0 1055.3,257.3 1063.3,242.7 1068.7,242.7 1076.7,226.7 1087.3,209.3 1115.3,209.3 1120.7,220.0 1128.4,236.9 1136.9,262.2 1148.1,269.2 1156.6,281.9 1162.2,287.5 1172.0,294.5 1187.5,294.5 1196.0,298.8 1203.0,300.2 1205.8,315.6 1207.2,338.1 1210.0,346.6 1223.1,347.7 1228.4,348.6 1232.9,350.4 1238.2,358.4 1244.4,367.3 1248.9,362.8 1253.3,361.1 1262.2,361.1 1272.0,356.6 1278.2,350.4 1287.0,342.4 1306.6,342.4 1311.0,350.4 1315.5,351.3 1320.8,345.0 1324.4,343.3 1328.7,342.9" fill="none" stroke="#2196f3" stroke-width="3" stroke-linejoin="round" stroke-linecap="round" />
<g fill="#089981"><rect x="20" y="289.6" width="1" height="11.6"/><rect x="19" y="290.2" width="3" height="10.0"/><rect x="32" y="288.6" width="1" height="25.0"/><rect x="31" y="293.4" width="3" height="7.7"/><rect x="40" y="268.4" width="1" height="32.8"/><rect x="39" y="269.4" width="3" height="30.8"/><rect x="53" y="261.3" width="1" height="17.7"/><rect x="52" y="266.5" width="3" height="10.6"/><rect x="57" y="248.2" width="1" height="20.2"/><rect x="56" y="250.1" width="3" height="17.3"/><rect x="61" y="240.5" width="1" height="14.5"/><rect x="60" y="247.2" width="3" height="4.8"/><rect x="69" y="250.1" width="1" height="16.4"/><rect x="68" y="253.0" width="3" height="8.7"/><rect x="77" y="237.6" width="1" height="17.3"/><rect x="76" y="250.1" width="3" height="4.8"/><rect x="81" y="234.7" width="1" height="15.8"/><rect x="80" y="240.5" width="3" height="10.0"/><rect x="90" y="217.3" width="1" height="38.5"/><rect x="89" y="223.1" width="3" height="20.2"/><rect x="98" y="221.2" width="1" height="5.8"/><rect x="97" y="222.2" width="3" height="3.9"/><rect x="102" y="192.5" width="1" height="31.8"/><rect x="101" y="194.4" width="3" height="28.9"/><rect x="110" y="192.5" width="1" height="17.3"/><rect x="109" y="195.4" width="3" height="13.5"/><rect x="114" y="179.0" width="1" height="25.0"/><rect x="113" y="186.7" width="3" height="9.6"/><rect x="118" y="177.1" width="1" height="12.5"/><rect x="117" y="180.0" width="3" height="7.7"/><rect x="122" y="175.1" width="1" height="5.8"/><rect x="121" y="176.1" width="3" height="4.8"/><rect x="126" y="171.3" width="1" height="7.7"/><rect x="125" y="172.3" width="3" height="4.8"/><rect x="130" y="157.8" width="1" height="17.3"/><rect x="129" y="159.7" width="3" height="14.5"/><rect x="139" y="149.1" width="1" height="16.4"/><rect x="138" y="154.9" width="3" height="7.7"/><rect x="151" y="175.1" width="1" height="5.8"/><rect x="150" y="176.1" width="3" height="3.9"/><rect x="155" y="156.8" width="1" height="21.2"/><rect x="154" y="160.7" width="3" height="16.4"/><rect x="159" y="151.1" width="1" height="11.6"/><rect x="158" y="156.8" width="3" height="5.8"/><rect x="167" y="139.5" width="1" height="21.2"/><rect x="166" y="150.1" width="3" height="9.6"/><rect x="171" y="130.8" width="1" height="20.2"/><rect x="170" y="131.8" width="3" height="19.3"/><rect x="184" y="120.2" width="1" height="16.4"/><rect x="183" y="121.2" width="3" height="15.4"/><rect x="200" y="176.1" width="1" height="11.6"/><rect x="199" y="177.1" width="3" height="9.6"/><rect x="204" y="169.4" width="1" height="13.5"/><rect x="203" y="173.2" width="3" height="3.9"/><rect x="208" y="153.9" width="1" height="21.2"/><rect x="207" y="156.8" width="3" height="17.3"/><rect x="212" y="146.2" width="1" height="11.4"/><rect x="211" y="147.3" width="3" height="9.3"/><rect x="220" y="149.3" width="1" height="18.7"/><rect x="219" y="150.8" width="3" height="11.0"/><rect x="233" y="158.7" width="1" height="12.4"/><rect x="232" y="164.9" width="3" height="3.1"/><rect x="241" y="143.1" width="1" height="31.1"/><rect x="240" y="151.4" width="3" height="21.8"/><rect x="245" y="136.9" width="1" height="19.7"/><rect x="244" y="142.1" width="3" height="9.3"/><rect x="249" y="132.8" width="1" height="9.3"/><rect x="248" y="133.8" width="3" height="8.3"/><rect x="261" y="139.0" width="1" height="25.9"/><rect x="260" y="148.3" width="3" height="15.6"/><rect x="269" y="135.9" width="1" height="24.9"/><rect x="268" y="145.2" width="3" height="13.5"/><rect x="274" y="137.9" width="1" height="8.3"/><rect x="273" y="142.1" width="3" height="3.1"/><rect x="278" y="137.9" width="1" height="7.3"/><rect x="277" y="139.0" width="3" height="5.2"/><rect x="282" y="117.2" width="1" height="23.8"/><rect x="281" y="126.5" width="3" height="13.5"/><rect x="294" y="94.4" width="1" height="38.4"/><rect x="293" y="105.8" width="3" height="24.9"/><rect x="298" y="89.2" width="1" height="17.6"/><rect x="297" y="93.4" width="3" height="13.5"/><rect x="302" y="88.2" width="1" height="6.2"/><rect x="301" y="88.6" width="3" height="4.8"/><rect x="306" y="75.7" width="1" height="14.5"/><rect x="305" y="82.0" width="3" height="7.3"/><rect x="310" y="64.3" width="1" height="19.7"/><rect x="309" y="75.7" width="3" height="6.2"/><rect x="319" y="69.5" width="1" height="24.9"/><rect x="318" y="73.7" width="3" height="10.4"/><rect x="323" y="64.3" width="1" height="11.4"/><rect x="322" y="69.5" width="3" height="4.1"/><rect x="347" y="130.5" width="1" height="17.6"/><rect x="346" y="135.7" width="3" height="11.4"/><rect x="351" y="132.6" width="1" height="8.3"/><rect x="350" y="134.6" width="3" height="5.2"/><rect x="355" y="125.3" width="1" height="12.4"/><rect x="354" y="127.4" width="3" height="9.3"/><rect x="363" y="121.2" width="1" height="16.6"/><rect x="362" y="125.3" width="3" height="6.2"/><rect x="376" y="151.2" width="1" height="6.2"/><rect x="375" y="152.3" width="3" height="4.1"/><rect x="380" y="147.1" width="1" height="13.5"/><rect x="379" y="149.2" width="3" height="4.1"/><rect x="384" y="141.9" width="1" height="12.4"/><rect x="383" y="145.0" width="3" height="4.1"/><rect x="392" y="137.8" width="1" height="20.7"/><rect x="391" y="145.0" width="3" height="8.3"/><rect x="413" y="144.0" width="1" height="15.6"/><rect x="412" y="149.2" width="3" height="4.1"/><rect x="417" y="138.8" width="1" height="14.5"/><rect x="416" y="142.9" width="3" height="9.3"/><rect x="421" y="130.5" width="1" height="27.0"/><rect x="420" y="141.9" width="3" height="3.1"/><rect x="429" y="135.7" width="1" height="11.4"/><rect x="428" y="136.7" width="3" height="9.3"/><rect x="462" y="265.1" width="1" height="23.9"/><rect x="461" y="272.3" width="3" height="7.3"/><rect x="466" y="264.0" width="1" height="17.6"/><rect x="465" y="267.1" width="3" height="5.2"/><rect x="470" y="212.2" width="1" height="58.1"/><rect x="469" y="214.2" width="3" height="53.9"/><rect x="478" y="194.5" width="1" height="29.0"/><rect x="477" y="199.7" width="3" height="21.8"/><rect x="490" y="220.5" width="1" height="21.8"/><rect x="489" y="224.6" width="3" height="9.3"/><rect x="507" y="235.0" width="1" height="6.2"/><rect x="506" y="236.0" width="3" height="1.0"/><rect x="527" y="340.0" width="1" height="18.7"/><rect x="526" y="345.3" width="3" height="6.7"/><rect x="531" y="333.3" width="1" height="13.3"/><rect x="530" y="337.3" width="3" height="8.0"/><rect x="547" y="348.0" width="1" height="32.0"/><rect x="546" y="378.7" width="3" height="1.3"/><rect x="556" y="376.0" width="1" height="6.7"/><rect x="555" y="377.3" width="3" height="2.7"/><rect x="560" y="354.7" width="1" height="25.3"/><rect x="559" y="356.0" width="3" height="22.7"/><rect x="568" y="356.0" width="1" height="16.0"/><rect x="567" y="357.3" width="3" height="9.3"/><rect x="597" y="421.3" width="1" height="36.0"/><rect x="596" y="422.7" width="3" height="30.7"/><rect x="601" y="413.7" width="1" height="12.7"/><rect x="600" y="415.1" width="3" height="9.9"/><rect x="609" y="426.3" width="1" height="9.9"/><rect x="608" y="427.7" width="3" height="4.2"/><rect x="617" y="420.7" width="1" height="18.3"/><rect x="616" y="423.5" width="3" height="12.7"/><rect x="621" y="416.5" width="1" height="15.5"/><rect x="620" y="423.5" width="3" height="5.6"/><rect x="633" y="422.1" width="1" height="15.5"/><rect x="632" y="423.5" width="3" height="12.7"/><rect x="637" y="382.7" width="1" height="43.7"/><rect x="636" y="392.5" width="3" height="32.4"/><rect x="646" y="381.3" width="1" height="25.4"/><rect x="645" y="384.1" width="3" height="21.1"/><rect x="650" y="353.1" width="1" height="35.2"/><rect x="649" y="354.5" width="3" height="31.0"/><rect x="658" y="354.5" width="1" height="8.5"/><rect x="657" y="355.9" width="3" height="5.6"/><rect x="662" y="334.8" width="1" height="22.5"/><rect x="661" y="336.2" width="3" height="19.7"/><rect x="670" y="316.5" width="1" height="31.0"/><rect x="669" y="327.7" width="3" height="18.3"/><rect x="678" y="323.5" width="1" height="15.5"/><rect x="677" y="326.3" width="3" height="11.3"/><rect x="682" y="317.9" width="1" height="8.5"/><rect x="681" y="319.3" width="3" height="5.6"/><rect x="687" y="306.6" width="1" height="14.1"/><rect x="686" y="313.7" width="3" height="5.6"/><rect x="695" y="329.2" width="1" height="15.5"/><rect x="694" y="330.6" width="3" height="11.3"/><rect x="699" y="295.4" width="1" height="36.6"/><rect x="698" y="296.8" width="3" height="33.8"/><rect x="703" y="285.0" width="1" height="15.5"/><rect x="702" y="292.8" width="3" height="4.7"/><rect x="707" y="285.0" width="1" height="12.4"/><rect x="706" y="288.1" width="3" height="6.2"/><rect x="711" y="275.7" width="1" height="17.1"/><rect x="710" y="281.9" width="3" height="9.3"/><rect x="715" y="267.9" width="1" height="17.1"/><rect x="714" y="269.5" width="3" height="14.0"/><rect x="719" y="257.0" width="1" height="17.1"/><rect x="718" y="258.6" width="3" height="14.0"/><rect x="727" y="253.9" width="1" height="18.7"/><rect x="726" y="260.1" width="3" height="4.7"/><rect x="736" y="233.7" width="1" height="31.1"/><rect x="735" y="235.3" width="3" height="28.0"/><rect x="740" y="213.5" width="1" height="24.9"/><rect x="739" y="216.6" width="3" height="20.2"/><rect x="744" y="196.4" width="1" height="24.9"/><rect x="743" y="213.5" width="3" height="6.2"/><rect x="748" y="204.2" width="1" height="24.9"/><rect x="747" y="205.7" width="3" height="9.3"/><rect x="752" y="193.3" width="1" height="17.1"/><rect x="751" y="198.0" width="3" height="7.8"/><rect x="760" y="176.2" width="1" height="28.0"/><rect x="759" y="179.3" width="3" height="20.2"/><rect x="772" y="232.2" width="1" height="34.2"/><rect x="771" y="233.7" width="3" height="31.1"/><rect x="789" y="314.5" width="1" height="46.6"/><rect x="788" y="325.4" width="3" height="34.2"/><rect x="797" y="314.5" width="1" height="42.0"/><rect x="796" y="322.3" width="3" height="31.1"/><rect x="809" y="325.5" width="1" height="5.3"/><rect x="808" y="326.4" width="3" height="3.6"/><rect x="813" y="310.4" width="1" height="18.7"/><rect x="812" y="314.0" width="3" height="14.2"/><rect x="817" y="296.2" width="1" height="19.5"/><rect x="816" y="300.6" width="3" height="14.2"/><rect x="821" y="288.2" width="1" height="15.1"/><rect x="820" y="292.7" width="3" height="8.9"/><rect x="834" y="313.1" width="1" height="7.1"/><rect x="833" y="314.0" width="3" height="5.3"/><rect x="842" y="314.0" width="1" height="14.2"/><rect x="841" y="314.9" width="3" height="11.6"/><rect x="846" y="295.3" width="1" height="21.3"/><rect x="845" y="298.0" width="3" height="17.8"/><rect x="854" y="306.0" width="1" height="8.9"/><rect x="853" y="309.5" width="3" height="4.4"/><rect x="862" y="273.1" width="1" height="46.2"/><rect x="861" y="277.5" width="3" height="35.5"/><rect x="866" y="266.9" width="1" height="12.4"/><rect x="865" y="270.4" width="3" height="5.3"/><rect x="891" y="321.1" width="1" height="18.7"/><rect x="890" y="326.4" width="3" height="1.8"/><rect x="895" y="300.6" width="1" height="32.9"/><rect x="894" y="306.9" width="3" height="21.3"/><rect x="899" y="290.9" width="1" height="19.5"/><rect x="898" y="306.9" width="3" height="1.8"/><rect x="907" y="303.3" width="1" height="14.2"/><rect x="906" y="304.2" width="3" height="9.8"/><rect x="915" y="294.4" width="1" height="19.5"/><rect x="914" y="303.3" width="3" height="7.1"/><rect x="928" y="295.3" width="1" height="16.0"/><rect x="927" y="303.3" width="3" height="7.1"/><rect x="932" y="303.3" width="1" height="7.1"/><rect x="931" y="305.1" width="3" height="4.4"/><rect x="936" y="297.1" width="1" height="16.9"/><rect x="935" y="302.4" width="3" height="4.4"/><rect x="944" y="298.0" width="1" height="17.8"/><rect x="943" y="300.6" width="3" height="8.0"/><rect x="948" y="282.0" width="1" height="40.9"/><rect x="947" y="286.4" width="3" height="15.1"/><rect x="969" y="290.0" width="1" height="16.9"/><rect x="968" y="291.8" width="3" height="9.8"/><rect x="981" y="320.2" width="1" height="8.9"/><rect x="980" y="321.1" width="3" height="7.1"/><rect x="985" y="306.9" width="1" height="47.1"/><rect x="984" y="309.5" width="3" height="11.6"/><rect x="1010" y="297.1" width="1" height="24.9"/><rect x="1009" y="310.4" width="3" height="10.7"/><rect x="1018" y="290.7" width="1" height="30.7"/><rect x="1017" y="292.0" width="3" height="28.0"/><rect x="1022" y="277.3" width="1" height="18.7"/><rect x="1021" y="284.0" width="3" height="9.3"/><rect x="1026" y="250.7" width="1" height="36.0"/><rect x="1025" y="262.7" width="3" height="22.7"/><rect x="1034" y="273.3" width="1" height="9.3"/><rect x="1033" y="276.0" width="3" height="2.7"/><rect x="1038" y="258.7" width="1" height="21.3"/><rect x="1037" y="261.3" width="3" height="17.3"/><rect x="1046" y="249.3" width="1" height="25.3"/><rect x="1045" y="253.3" width="3" height="20.0"/><rect x="1050" y="225.3" width="1" height="30.7"/><rect x="1049" y="233.3" width="3" height="21.3"/><rect x="1055" y="224.0" width="1" height="12.0"/><rect x="1054" y="225.3" width="3" height="9.3"/><rect x="1059" y="216.0" width="1" height="10.7"/><rect x="1058" y="218.7" width="3" height="6.7"/><rect x="1071" y="212.0" width="1" height="18.7"/><rect x="1070" y="218.7" width="3" height="10.7"/><rect x="1075" y="185.3" width="1" height="34.7"/><rect x="1074" y="189.3" width="3" height="29.3"/><rect x="1079" y="176.0" width="1" height="17.3"/><rect x="1078" y="182.7" width="3" height="9.3"/><rect x="1083" y="177.3" width="1" height="8.0"/><rect x="1082" y="178.7" width="3" height="5.3"/><rect x="1091" y="178.7" width="1" height="18.7"/><rect x="1090" y="185.3" width="3" height="10.7"/><rect x="1104" y="233.3" width="1" height="14.7"/><rect x="1103" y="240.0" width="3" height="6.7"/><rect x="1112" y="224.0" width="1" height="21.3"/><rect x="1111" y="230.7" width="3" height="13.3"/><rect x="1136" y="290.3" width="1" height="8.4"/><rect x="1135" y="291.7" width="3" height="5.6"/><rect x="1140" y="284.7" width="1" height="19.7"/><rect x="1139" y="287.5" width="3" height="5.6"/><rect x="1149" y="270.6" width="1" height="19.7"/><rect x="1148" y="272.0" width="3" height="16.9"/><rect x="1161" y="281.9" width="1" height="9.8"/><rect x="1160" y="287.5" width="3" height="2.8"/><rect x="1165" y="280.5" width="1" height="11.3"/><rect x="1164" y="283.3" width="3" height="7.0"/><rect x="1169" y="283.3" width="1" height="15.5"/><rect x="1168" y="286.1" width="3" height="5.6"/><rect x="1181" y="300.2" width="1" height="14.1"/><rect x="1180" y="301.6" width="3" height="11.3"/><rect x="1185" y="297.4" width="1" height="7.0"/><rect x="1184" y="298.8" width="3" height="4.2"/><rect x="1198" y="297.4" width="1" height="8.4"/><rect x="1197" y="298.8" width="3" height="5.6"/><rect x="1214" y="346.8" width="1" height="50.6"/><rect x="1213" y="359.3" width="3" height="37.3"/><rect x="1218" y="339.7" width="1" height="30.2"/><rect x="1217" y="348.6" width="3" height="10.7"/><rect x="1222" y="332.6" width="1" height="21.3"/><rect x="1221" y="346.8" width="3" height="4.4"/><rect x="1230" y="375.3" width="1" height="22.2"/><rect x="1229" y="382.4" width="3" height="14.2"/><rect x="1239" y="369.9" width="1" height="23.1"/><rect x="1238" y="378.8" width="3" height="8.9"/><rect x="1243" y="362.8" width="1" height="18.7"/><rect x="1242" y="364.6" width="3" height="15.1"/><rect x="1251" y="324.6" width="1" height="50.6"/><rect x="1250" y="325.5" width="3" height="45.3"/><rect x="1263" y="334.4" width="1" height="6.2"/><rect x="1262" y="335.3" width="3" height="3.6"/><rect x="1271" y="321.1" width="1" height="16.9"/><rect x="1270" y="327.3" width="3" height="9.8"/><rect x="1284" y="347.7" width="1" height="15.1"/><rect x="1283" y="348.6" width="3" height="11.5"/><rect x="1288" y="349.5" width="1" height="10.7"/><rect x="1287" y="350.4" width="3" height="8.9"/><rect x="1292" y="343.3" width="1" height="8.9"/><rect x="1291" y="345.1" width="3" height="6.2"/><rect x="1308" y="343.3" width="1" height="15.1"/><rect x="1307" y="348.6" width="3" height="8.9"/><rect x="1312" y="347.7" width="1" height="3.6"/><rect x="1311" y="348.6" width="3" height="1.8"/><rect x="1316" y="342.4" width="1" height="10.7"/><rect x="1315" y="344.2" width="3" height="8.0"/><rect x="1320" y="328.2" width="1" height="17.8"/><rect x="1319" y="331.7" width="3" height="13.3"/><rect x="1328" y="327.3" width="1" height="7.1"/><rect x="1327" y="332.6" width="3" height="1.1"/></g><g fill="#f23645"><rect x="12" y="277.1" width="1" height="23.1"/><rect x="11" y="290.6" width="3" height="8.7"/><rect x="16" y="276.1" width="1" height="27.0"/><rect x="15" y="290.6" width="3" height="9.6"/><rect x="24" y="288.6" width="1" height="7.7"/><rect x="23" y="289.6" width="3" height="5.8"/><rect x="28" y="290.6" width="1" height="12.5"/><rect x="27" y="295.4" width="3" height="6.7"/><rect x="36" y="282.9" width="1" height="18.3"/><rect x="35" y="293.4" width="3" height="6.7"/><rect x="45" y="262.6" width="1" height="16.4"/><rect x="44" y="270.3" width="3" height="5.8"/><rect x="49" y="273.2" width="1" height="4.8"/><rect x="48" y="275.1" width="3" height="2.3"/><rect x="65" y="235.6" width="1" height="28.9"/><rect x="64" y="247.2" width="3" height="14.5"/><rect x="73" y="253.0" width="1" height="2.9"/><rect x="72" y="253.6" width="3" height="1.3"/><rect x="85" y="229.9" width="1" height="19.3"/><rect x="84" y="240.8" width="3" height="3.1"/><rect x="94" y="221.2" width="1" height="16.4"/><rect x="93" y="222.7" width="3" height="3.3"/><rect x="106" y="189.0" width="1" height="19.8"/><rect x="105" y="194.4" width="3" height="14.5"/><rect x="135" y="157.8" width="1" height="15.4"/><rect x="134" y="159.7" width="3" height="2.9"/><rect x="143" y="145.3" width="1" height="38.5"/><rect x="142" y="154.9" width="3" height="27.9"/><rect x="147" y="170.3" width="1" height="18.3"/><rect x="146" y="178.0" width="3" height="1.9"/><rect x="163" y="147.2" width="1" height="16.4"/><rect x="162" y="156.8" width="3" height="5.8"/><rect x="175" y="130.8" width="1" height="5.8"/><rect x="174" y="131.8" width="3" height="3.9"/><rect x="179" y="133.7" width="1" height="15.4"/><rect x="178" y="134.7" width="3" height="1.0"/><rect x="188" y="116.4" width="1" height="14.5"/><rect x="187" y="122.2" width="3" height="7.7"/><rect x="192" y="128.9" width="1" height="67.4"/><rect x="191" y="129.9" width="3" height="47.2"/><rect x="196" y="174.2" width="1" height="17.3"/><rect x="195" y="176.1" width="3" height="9.6"/><rect x="216" y="141.0" width="1" height="33.2"/><rect x="215" y="148.3" width="3" height="13.5"/><rect x="224" y="150.4" width="1" height="7.3"/><rect x="223" y="150.8" width="3" height="5.8"/><rect x="229" y="153.5" width="1" height="17.6"/><rect x="228" y="154.5" width="3" height="15.6"/><rect x="237" y="161.8" width="1" height="20.7"/><rect x="236" y="164.9" width="3" height="8.3"/><rect x="253" y="132.8" width="1" height="28.0"/><rect x="252" y="133.8" width="3" height="20.7"/><rect x="257" y="150.4" width="1" height="19.7"/><rect x="256" y="152.4" width="3" height="11.4"/><rect x="265" y="145.2" width="1" height="19.7"/><rect x="264" y="148.3" width="3" height="10.4"/><rect x="286" y="119.3" width="1" height="10.4"/><rect x="285" y="126.1" width="3" height="1.5"/><rect x="290" y="119.3" width="1" height="16.6"/><rect x="289" y="125.5" width="3" height="4.1"/><rect x="314" y="70.6" width="1" height="13.5"/><rect x="313" y="77.8" width="3" height="5.2"/><rect x="327" y="66.4" width="1" height="6.2"/><rect x="326" y="68.5" width="3" height="3.1"/><rect x="331" y="64.3" width="1" height="17.6"/><rect x="330" y="68.5" width="3" height="7.3"/><rect x="335" y="69.5" width="1" height="12.4"/><rect x="334" y="71.6" width="3" height="9.3"/><rect x="339" y="74.5" width="1" height="15.6"/><rect x="338" y="76.6" width="3" height="6.2"/><rect x="343" y="77.6" width="1" height="81.9"/><rect x="342" y="79.7" width="3" height="65.3"/><rect x="359" y="117.0" width="1" height="17.6"/><rect x="358" y="127.4" width="3" height="5.2"/><rect x="368" y="109.8" width="1" height="36.3"/><rect x="367" y="125.3" width="3" height="16.6"/><rect x="372" y="136.7" width="1" height="20.7"/><rect x="371" y="137.8" width="3" height="18.7"/><rect x="388" y="138.8" width="1" height="15.6"/><rect x="387" y="145.0" width="3" height="8.3"/><rect x="396" y="132.6" width="1" height="16.6"/><rect x="395" y="145.0" width="3" height="3.1"/><rect x="400" y="147.1" width="1" height="11.4"/><rect x="399" y="148.1" width="3" height="1.0"/><rect x="404" y="148.1" width="1" height="6.2"/><rect x="403" y="149.2" width="3" height="4.1"/><rect x="408" y="151.2" width="1" height="19.7"/><rect x="407" y="152.3" width="3" height="1.0"/><rect x="425" y="139.8" width="1" height="11.4"/><rect x="424" y="141.9" width="3" height="4.1"/><rect x="433" y="129.5" width="1" height="32.1"/><rect x="432" y="130.5" width="3" height="25.9"/><rect x="437" y="154.3" width="1" height="21.8"/><rect x="436" y="155.4" width="3" height="14.5"/><rect x="441" y="165.5" width="1" height="51.9"/><rect x="440" y="167.6" width="3" height="46.7"/><rect x="445" y="213.2" width="1" height="76.8"/><rect x="444" y="214.2" width="3" height="38.4"/><rect x="449" y="247.4" width="1" height="27.0"/><rect x="448" y="251.6" width="3" height="15.6"/><rect x="453" y="265.1" width="1" height="8.3"/><rect x="452" y="266.1" width="3" height="5.2"/><rect x="458" y="270.2" width="1" height="34.2"/><rect x="457" y="271.3" width="3" height="8.3"/><rect x="474" y="211.1" width="1" height="20.7"/><rect x="473" y="214.2" width="3" height="6.2"/><rect x="482" y="194.5" width="1" height="28.0"/><rect x="481" y="200.7" width="3" height="20.7"/><rect x="486" y="219.4" width="1" height="23.9"/><rect x="485" y="220.5" width="3" height="13.5"/><rect x="494" y="204.9" width="1" height="33.2"/><rect x="493" y="225.6" width="3" height="7.3"/><rect x="498" y="229.8" width="1" height="9.3"/><rect x="497" y="231.9" width="3" height="1.0"/><rect x="503" y="231.9" width="1" height="5.2"/><rect x="502" y="232.9" width="3" height="3.1"/><rect x="511" y="235.0" width="1" height="31.1"/><rect x="510" y="236.0" width="3" height="25.9"/><rect x="515" y="253.7" width="1" height="11.4"/><rect x="514" y="259.9" width="3" height="1.0"/><rect x="519" y="251.6" width="1" height="25.9"/><rect x="518" y="263.0" width="3" height="10.4"/><rect x="523" y="272.0" width="1" height="82.7"/><rect x="522" y="273.3" width="3" height="80.0"/><rect x="535" y="332.0" width="1" height="14.7"/><rect x="534" y="337.3" width="3" height="8.0"/><rect x="539" y="344.0" width="1" height="40.0"/><rect x="538" y="345.3" width="3" height="34.7"/><rect x="543" y="365.3" width="1" height="26.7"/><rect x="542" y="378.7" width="3" height="1.3"/><rect x="552" y="369.3" width="1" height="18.7"/><rect x="551" y="377.3" width="3" height="1.3"/><rect x="564" y="356.0" width="1" height="13.3"/><rect x="563" y="357.3" width="3" height="10.7"/><rect x="572" y="345.3" width="1" height="41.3"/><rect x="571" y="357.3" width="3" height="10.7"/><rect x="576" y="365.3" width="1" height="46.7"/><rect x="575" y="366.7" width="3" height="40.0"/><rect x="580" y="406.7" width="1" height="18.7"/><rect x="579" y="408.0" width="3" height="16.0"/><rect x="584" y="418.7" width="1" height="25.3"/><rect x="583" y="422.7" width="3" height="20.0"/><rect x="588" y="433.3" width="1" height="16.0"/><rect x="587" y="441.3" width="3" height="6.7"/><rect x="592" y="445.3" width="1" height="34.7"/><rect x="591" y="446.7" width="3" height="6.7"/><rect x="605" y="413.7" width="1" height="21.1"/><rect x="604" y="415.1" width="3" height="15.5"/><rect x="613" y="427.7" width="1" height="22.5"/><rect x="612" y="429.2" width="3" height="7.0"/><rect x="625" y="420.7" width="1" height="18.3"/><rect x="624" y="423.5" width="3" height="11.3"/><rect x="629" y="433.4" width="1" height="8.5"/><rect x="628" y="434.8" width="3" height="4.2"/><rect x="642" y="391.1" width="1" height="16.9"/><rect x="641" y="393.9" width="3" height="11.3"/><rect x="654" y="351.7" width="1" height="12.7"/><rect x="653" y="354.5" width="3" height="8.5"/><rect x="666" y="332.0" width="1" height="15.5"/><rect x="665" y="333.4" width="3" height="12.7"/><rect x="674" y="310.8" width="1" height="28.2"/><rect x="673" y="327.7" width="3" height="9.9"/><rect x="691" y="312.3" width="1" height="31.0"/><rect x="690" y="313.7" width="3" height="28.2"/><rect x="723" y="258.6" width="1" height="17.1"/><rect x="722" y="260.1" width="3" height="6.2"/><rect x="731" y="258.6" width="1" height="4.7"/><rect x="730" y="261.7" width="3" height="1.6"/><rect x="756" y="198.0" width="1" height="6.2"/><rect x="755" y="198.6" width="3" height="4.0"/><rect x="764" y="178.7" width="1" height="100.1"/><rect x="763" y="179.3" width="3" height="79.3"/><rect x="768" y="257.0" width="1" height="23.3"/><rect x="767" y="258.6" width="3" height="4.7"/><rect x="776" y="230.6" width="1" height="102.6"/><rect x="775" y="232.2" width="3" height="99.5"/><rect x="781" y="311.4" width="1" height="38.9"/><rect x="780" y="330.1" width="3" height="3.1"/><rect x="785" y="328.5" width="1" height="38.9"/><rect x="784" y="331.6" width="3" height="28.0"/><rect x="793" y="314.5" width="1" height="40.4"/><rect x="792" y="323.9" width="3" height="29.5"/><rect x="801" y="306.8" width="1" height="45.1"/><rect x="800" y="322.3" width="3" height="24.9"/><rect x="805" y="322.3" width="1" height="9.3"/><rect x="804" y="327.0" width="3" height="3.1"/><rect x="826" y="281.1" width="1" height="36.4"/><rect x="825" y="292.7" width="3" height="14.2"/><rect x="830" y="303.3" width="1" height="16.9"/><rect x="829" y="306.0" width="3" height="13.3"/><rect x="838" y="313.1" width="1" height="28.4"/><rect x="837" y="318.4" width="3" height="8.0"/><rect x="850" y="297.1" width="1" height="18.7"/><rect x="849" y="298.9" width="3" height="16.0"/><rect x="858" y="308.6" width="1" height="5.3"/><rect x="857" y="309.5" width="3" height="3.6"/><rect x="871" y="267.8" width="1" height="18.7"/><rect x="870" y="276.7" width="3" height="1.8"/><rect x="875" y="268.7" width="1" height="24.0"/><rect x="874" y="277.5" width="3" height="1.8"/><rect x="879" y="274.0" width="1" height="13.3"/><rect x="878" y="279.3" width="3" height="7.1"/><rect x="883" y="285.5" width="1" height="16.0"/><rect x="882" y="286.4" width="3" height="13.3"/><rect x="887" y="298.9" width="1" height="40.0"/><rect x="886" y="300.6" width="3" height="27.5"/><rect x="903" y="306.0" width="1" height="14.2"/><rect x="902" y="306.9" width="3" height="7.1"/><rect x="911" y="305.1" width="1" height="14.2"/><rect x="910" y="306.9" width="3" height="3.6"/><rect x="920" y="297.1" width="1" height="15.1"/><rect x="919" y="302.4" width="3" height="6.2"/><rect x="924" y="285.5" width="1" height="31.1"/><rect x="923" y="305.1" width="3" height="5.3"/><rect x="940" y="292.7" width="1" height="17.8"/><rect x="939" y="302.4" width="3" height="6.2"/><rect x="952" y="285.5" width="1" height="13.3"/><rect x="951" y="286.4" width="3" height="5.3"/><rect x="956" y="290.9" width="1" height="6.2"/><rect x="955" y="291.8" width="3" height="2.7"/><rect x="960" y="292.7" width="1" height="10.7"/><rect x="959" y="293.5" width="3" height="3.6"/><rect x="965" y="285.5" width="1" height="16.0"/><rect x="964" y="296.2" width="3" height="1.0"/><rect x="973" y="287.3" width="1" height="24.0"/><rect x="972" y="292.7" width="3" height="17.8"/><rect x="977" y="309.5" width="1" height="28.4"/><rect x="976" y="310.4" width="3" height="17.8"/><rect x="989" y="303.3" width="1" height="14.2"/><rect x="988" y="309.5" width="3" height="1.8"/><rect x="993" y="301.5" width="1" height="21.3"/><rect x="992" y="311.3" width="3" height="2.7"/><rect x="997" y="304.2" width="1" height="32.9"/><rect x="996" y="313.1" width="3" height="2.7"/><rect x="1001" y="308.6" width="1" height="12.4"/><rect x="1000" y="315.8" width="3" height="4.4"/><rect x="1005" y="316.6" width="1" height="8.0"/><rect x="1004" y="318.4" width="3" height="5.3"/><rect x="1014" y="292.7" width="1" height="37.3"/><rect x="1013" y="310.4" width="3" height="2.7"/><rect x="1030" y="260.0" width="1" height="20.0"/><rect x="1029" y="261.3" width="3" height="16.0"/><rect x="1042" y="254.7" width="1" height="17.3"/><rect x="1041" y="261.3" width="3" height="8.0"/><rect x="1063" y="205.3" width="1" height="18.7"/><rect x="1062" y="217.3" width="3" height="5.3"/><rect x="1067" y="213.3" width="1" height="38.7"/><rect x="1066" y="220.0" width="3" height="9.3"/><rect x="1087" y="169.3" width="1" height="45.3"/><rect x="1086" y="178.7" width="3" height="17.3"/><rect x="1095" y="182.7" width="1" height="16.0"/><rect x="1094" y="185.3" width="3" height="9.3"/><rect x="1100" y="190.7" width="1" height="58.7"/><rect x="1099" y="193.3" width="3" height="52.0"/><rect x="1108" y="238.7" width="1" height="9.3"/><rect x="1107" y="240.0" width="3" height="5.3"/><rect x="1116" y="228.0" width="1" height="13.3"/><rect x="1115" y="230.7" width="3" height="9.3"/><rect x="1120" y="237.3" width="1" height="33.3"/><rect x="1119" y="238.7" width="3" height="30.7"/><rect x="1124" y="262.2" width="1" height="19.7"/><rect x="1123" y="265.0" width="3" height="15.5"/><rect x="1128" y="270.6" width="1" height="19.7"/><rect x="1127" y="272.0" width="3" height="15.5"/><rect x="1132" y="286.1" width="1" height="14.1"/><rect x="1131" y="287.5" width="3" height="9.8"/><rect x="1144" y="281.9" width="1" height="12.7"/><rect x="1143" y="286.1" width="3" height="4.2"/><rect x="1153" y="269.2" width="1" height="19.7"/><rect x="1152" y="270.6" width="3" height="16.9"/><rect x="1157" y="283.3" width="1" height="8.4"/><rect x="1156" y="284.7" width="3" height="5.6"/><rect x="1173" y="287.5" width="1" height="28.1"/><rect x="1172" y="288.9" width="3" height="21.1"/><rect x="1177" y="298.8" width="1" height="22.5"/><rect x="1176" y="307.2" width="3" height="4.2"/><rect x="1189" y="294.5" width="1" height="9.8"/><rect x="1188" y="298.8" width="3" height="2.8"/><rect x="1194" y="295.9" width="1" height="9.8"/><rect x="1193" y="300.2" width="3" height="2.8"/><rect x="1202" y="297.1" width="1" height="23.1"/><rect x="1201" y="300.7" width="3" height="18.7"/><rect x="1206" y="309.5" width="1" height="60.4"/><rect x="1205" y="310.4" width="3" height="58.6"/><rect x="1210" y="361.1" width="1" height="42.6"/><rect x="1209" y="369.1" width="3" height="27.5"/><rect x="1226" y="346.8" width="1" height="50.6"/><rect x="1225" y="347.7" width="3" height="48.9"/><rect x="1234" y="376.2" width="1" height="12.4"/><rect x="1233" y="380.6" width="3" height="7.1"/><rect x="1247" y="362.8" width="1" height="13.3"/><rect x="1246" y="365.5" width="3" height="5.3"/><rect x="1255" y="323.8" width="1" height="15.1"/><rect x="1254" y="325.5" width="3" height="4.4"/><rect x="1259" y="329.1" width="1" height="12.4"/><rect x="1258" y="330.0" width="3" height="10.7"/><rect x="1267" y="330.9" width="1" height="16.9"/><rect x="1266" y="335.3" width="3" height="2.7"/><rect x="1275" y="322.9" width="1" height="31.1"/><rect x="1274" y="326.4" width="3" height="23.1"/><rect x="1279" y="344.2" width="1" height="16.9"/><rect x="1278" y="346.8" width="3" height="13.3"/><rect x="1296" y="340.6" width="1" height="8.0"/><rect x="1295" y="344.2" width="3" height="3.6"/><rect x="1300" y="343.3" width="1" height="8.9"/><rect x="1299" y="345.1" width="3" height="6.2"/><rect x="1304" y="348.6" width="1" height="9.8"/><rect x="1303" y="349.5" width="3" height="6.2"/><rect x="1324" y="327.3" width="1" height="9.8"/><rect x="1323" y="331.7" width="3" height="2.7"/></g>
<line x1="14" y1="333.5" x2="1586" y2="333.5" stroke="#089981" stroke-width="1" stroke-dasharray="1,2"/>
<line x1="1221.3" y1="332.6" x2="1394.6" y2="282.1" stroke="#14967c" stroke-width="2.3" stroke-linecap="round"/>
<line x1="1209.8" y1="403.7" x2="1394.6" y2="343.9" stroke="#14967c" stroke-width="2.3" stroke-linecap="round"/>
</g>
<g clip-path="url(#rsip)">
<rect x="14" y="540.5" width="1572" height="36.5" fill="#7e57c2" fill-opacity="0.1"/>
<g stroke="#787b86" stroke-width="1.2" stroke-dasharray="5,6"><line x1="13.6" y1="540.5" x2="1586" y2="540.5"/><line x1="13.6" y1="559.5" x2="1586" y2="559.5"/><line x1="13.6" y1="577.5" x2="1586" y2="577.5"/></g>
<polyline points="13.0,556.0 19.9,553.9 27.8,558.6 33.0,555.2 37.0,556.5 40.9,549.2 48.8,551.3 55.3,546.0 60.6,543.4 67.2,550.0 72.4,547.3 82.9,543.9 88.2,540.8 93.4,542.0 101.3,535.5 106.6,539.4 111.8,539.4 117.0,535.5 127.6,534.2 131.5,532.9 138.1,532.9 143.3,544.7 148.6,544.7 156.5,540.8 163.0,541.3 170.9,536.0 177.5,537.6 183.3,535.0 188.0,539.4 192.0,558.6 195.9,560.5 203.8,557.8 211.6,550.7 216.9,554.4 222.1,551.8 227.4,557.8 236.6,558.6 240.5,552.6 249.7,548.1 256.3,557.8 261.5,553.9 265.5,557.0 269.4,552.6 277.3,550.7 282.6,548.6 289.1,548.6 295.7,540.8 301.0,539.4 310.1,536.8 314.1,539.4 320.6,536.8 327.2,538.7 333.8,541.3 339.0,544.7 343.0,567.0 348.2,564.4 353.5,564.9 356.1,561.8 362.7,561.2 371.9,569.7 385.0,564.9 388.9,567.6 392.9,564.4 406.0,567.0 411.3,566.5 416.5,561.2 424.4,562.3 429.7,557.8 434.9,567.0 440.2,576.2 445.4,585.9 450.0,587.3 457.9,588.6 465.8,582.8 469.7,563.9 475.0,565.7 478.4,559.7 482.8,563.9 488.1,566.5 492.0,564.4 496.0,565.7 505.2,566.5 511.7,572.3 518.3,574.4 523.5,584.9 532.7,579.6 539.3,584.1 555.1,583.3 560.3,574.9 565.6,576.5 569.5,573.6 573.5,575.4 576.1,580.7 584.0,584.9 593.2,585.9 597.1,575.4 601.0,572.8 605.0,574.9 612.9,574.9 618.1,571.5 623.4,572.3 631.2,574.4 637.8,558.6 641.8,561.8 649.6,550.0 656.2,551.3 661.5,546.5 665.4,549.2 670.6,546.0 674.6,548.6 681.2,545.5 687.7,543.9 690.3,552.6 694.3,550.7 699.5,544.7 706.1,543.4 712.7,541.3 719.2,538.1 723.2,540.8 731.1,540.2 736.3,535.5 740.3,533.4 750.8,530.8 754.7,532.9 761.3,530.3 763.9,555.2 767.8,556.5 771.8,551.3 777.0,566.5 781.0,567.6 784.9,571.0 788.9,564.9 792.8,568.3 796.7,563.1 804.6,563.9 812.5,561.2 819.0,557.8 822.5,557.0 828.3,561.8 834.8,561.2 838.8,563.1 845.3,557.0 850.6,559.9 857.1,559.1 861.1,552.0 867.6,552.0 875.5,553.4 880.8,556.5 886.0,564.9 888.0,565.7 895.9,559.1 899.8,559.1 903.8,561.2 906.4,558.6 911.6,559.7 915.6,557.8 920.8,558.6 926.1,560.5 930.0,559.7 936.6,557.0 940.5,559.1 948.4,551.3 953.7,553.4 962.9,556.0 968.1,553.9 977.3,568.3 985.2,559.7 995.7,562.3 1005.7,566.5 1009.4,559.1 1012.8,560.5 1019.3,551.3 1025.1,542.9 1031.2,549.4 1037.7,544.7 1041.7,548.6 1049.5,540.2 1056.1,536.8 1062.7,536.8 1066.6,542.1 1075.8,535.0 1082.4,533.4 1087.1,540.8 1091.6,539.4 1095.5,542.9 1099.5,559.7 1103.4,558.6 1107.3,559.1 1111.8,556.0 1116.5,558.6 1120.5,565.7 1132.3,571.8 1140.2,568.3 1144.1,568.3 1148.0,562.3 1153.3,565.7 1162.5,567.0 1167.7,566.5 1173.8,571.8 1177.0,572.3 1184.8,566.5 1192.7,567.6 1199.3,566.5 1203.2,572.3 1205.8,582.3 1209.8,585.9 1215.0,572.3 1219.5,569.1 1222.9,569.1 1226.8,577.0 1230.8,572.3 1234.7,572.8 1245.2,567.0 1247.9,567.6 1251.0,556.5 1259.7,559.1 1267.6,558.6 1272.0,556.5 1276.8,563.1 1280.7,564.9 1292.5,559.1 1304.3,563.9 1308.3,560.5 1316.2,559.1 1320.9,554.4 1328.7,555.2" fill="none" stroke="#434651" stroke-width="1.3" stroke-linejoin="round" stroke-linecap="round" />
</g>
<g fill="none" stroke="#e6e8ee">
<rect x="13" y="13" width="1649" height="617" stroke-width="2"/>
<line x1="13" y1="522.5" x2="1662" y2="522.5" stroke-width="1.4" stroke="#e0e3eb"/>
<line x1="1586.5" y1="13" x2="1586.5" y2="630" stroke-width="1"/>
</g>
<g font-family="Liberation Sans, sans-serif" font-size="15.4" fill="#131722" stroke="#131722" stroke-width="0.15"><text x="1597.2" y="504.8" textLength="52.2" lengthAdjust="spacingAndGlyphs">2525.00</text><text x="1597.2" y="463.7" textLength="52.2" lengthAdjust="spacingAndGlyphs">2550.00</text><text x="1597.2" y="422.6" textLength="52.2" lengthAdjust="spacingAndGlyphs">2575.00</text><text x="1597.2" y="381.5" textLength="52.2" lengthAdjust="spacingAndGlyphs">2600.00</text><text x="1597.2" y="340.4" textLength="52.2" lengthAdjust="spacingAndGlyphs">2625.00</text><text x="1597.2" y="299.3" textLength="52.2" lengthAdjust="spacingAndGlyphs">2650.00</text><text x="1597.2" y="258.2" textLength="52.2" lengthAdjust="spacingAndGlyphs">2675.00</text><text x="1597.2" y="217.1" textLength="52.2" lengthAdjust="spacingAndGlyphs">2700.00</text><text x="1597.2" y="176.0" textLength="52.2" lengthAdjust="spacingAndGlyphs">2725.00</text><text x="1597.2" y="134.9" textLength="52.2" lengthAdjust="spacingAndGlyphs">2750.00</text><text x="1597.2" y="93.8" textLength="52.2" lengthAdjust="spacingAndGlyphs">2775.00</text><text x="1597.2" y="52.7" textLength="52.2" lengthAdjust="spacingAndGlyphs">2800.00</text><text x="1597.2" y="564.5" textLength="36.1" lengthAdjust="spacingAndGlyphs">50.00</text></g>
<g font-family="Liberation Sans, sans-serif" font-size="14.8" fill="#131722" stroke="#131722" stroke-width="0.2" text-anchor="middle"><text x="24" y="619" textLength="16.0" lengthAdjust="spacingAndGlyphs">15</text><text x="126" y="619" textLength="16.0" lengthAdjust="spacingAndGlyphs">21</text><text x="249" y="619" textLength="16.0" lengthAdjust="spacingAndGlyphs">26</text><text x="351" y="619" textLength="24.5" lengthAdjust="spacingAndGlyphs">Nov</text><text x="454" y="619" textLength="8.0" lengthAdjust="spacingAndGlyphs">7</text><text x="556" y="619" textLength="16.0" lengthAdjust="spacingAndGlyphs">13</text><text x="658" y="619" textLength="16.0" lengthAdjust="spacingAndGlyphs">19</text><text x="760" y="619" textLength="16.0" lengthAdjust="spacingAndGlyphs">25</text><text x="883" y="619" textLength="25.5" lengthAdjust="spacingAndGlyphs">Dec</text><text x="1006" y="619" textLength="8.0" lengthAdjust="spacingAndGlyphs">7</text><text x="1108" y="619" textLength="16.0" lengthAdjust="spacingAndGlyphs">13</text><text x="1210" y="619" textLength="16.0" lengthAdjust="spacingAndGlyphs">19</text><text x="1312" y="619" textLength="16.0" lengthAdjust="spacingAndGlyphs">25</text><text x="1464" y="619" font-weight="bold" textLength="34" lengthAdjust="spacingAndGlyphs">2025</text></g>
<svg x="1575" y="600" width="11.5" height="30"><text x="7" y="19" font-family="Liberation Sans, sans-serif" font-size="14.4" fill="#131722">6</text></svg>
<text x="23.4" y="38" font-family="Liberation Sans, sans-serif" font-size="14.5" fill="#131722" textLength="279.4" lengthAdjust="spacingAndGlyphs" stroke="#131722" stroke-width="0.3">Gold US Dollars per Ounce Spot Prices, 4h</text>
<text x="312.5" y="38" font-family="Liberation Sans, sans-serif" font-size="14.5" fill="#131722" stroke="#131722" stroke-width="0.3">O</text>
<text x="323.3" y="38" font-family="Liberation Sans, sans-serif" font-size="14.5" fill="#089981" textLength="51.3" lengthAdjust="spacingAndGlyphs" stroke="#089981" stroke-width="0.3">2625.63</text>
<text x="385" y="38" font-family="Liberation Sans, sans-serif" font-size="14.5" fill="#131722" stroke="#131722" stroke-width="0.3">H</text>
<text x="394.8" y="38" font-family="Liberation Sans, sans-serif" font-size="14.5" fill="#089981" textLength="50.7" lengthAdjust="spacingAndGlyphs" stroke="#089981" stroke-width="0.3">2629.11</text>
<text x="456.5" y="38" font-family="Liberation Sans, sans-serif" font-size="14.5" fill="#131722" stroke="#131722" stroke-width="0.3">L</text>
<text x="463.9" y="38" font-family="Liberation Sans, sans-serif" font-size="14.5" fill="#089981" textLength="51.7" lengthAdjust="spacingAndGlyphs" stroke="#089981" stroke-width="0.3">2625.06</text>
<text x="525.4" y="38" font-family="Liberation Sans, sans-serif" font-size="14.5" fill="#131722" stroke="#131722" stroke-width="0.3">C</text>
<text x="534.8" y="38" font-family="Liberation Sans, sans-serif" font-size="14.5" fill="#089981" textLength="51.7" lengthAdjust="spacingAndGlyphs" stroke="#089981" stroke-width="0.3">2626.40</text>
<text x="596.5" y="38" font-family="Liberation Sans, sans-serif" font-size="14.5" fill="#089981" textLength="35" lengthAdjust="spacingAndGlyphs" stroke="#089981" stroke-width="0.3">+0.91</text>
<text x="638.5" y="38" font-family="Liberation Sans, sans-serif" font-size="14.5" fill="#089981" textLength="56" lengthAdjust="spacingAndGlyphs" stroke="#089981" stroke-width="0.3">(+0.03%)</text>
<text x="23.4" y="59" font-family="Liberation Sans, sans-serif" font-size="14.5" fill="#131722" textLength="119.6" lengthAdjust="spacingAndGlyphs" stroke="#131722" stroke-width="0.3">MA (100, close, 0)</text>
<text x="152.9" y="59" font-family="Liberation Sans, sans-serif" font-size="14.5" fill="#2196f3" textLength="52" lengthAdjust="spacingAndGlyphs" stroke="#2196f3" stroke-width="0.3">2646.38</text>
<text x="23.4" y="80" font-family="Liberation Sans, sans-serif" font-size="14.5" fill="#131722" textLength="185.9" lengthAdjust="spacingAndGlyphs" stroke="#131722" stroke-width="0.3">Ichimoku (9, 26, 52, 26, 26)</text>
<text x="218.7" y="80" font-family="Liberation Sans, sans-serif" font-size="14.5" fill="#2196f3" textLength="51.3" lengthAdjust="spacingAndGlyphs" stroke="#2196f3" stroke-width="0.3">2619.91</text>
<text x="280.4" y="80" font-family="Liberation Sans, sans-serif" font-size="14.5" fill="#801922" textLength="51.3" lengthAdjust="spacingAndGlyphs" stroke="#801922" stroke-width="0.3">2610.21</text>
<text x="23.4" y="100" font-family="Liberation Sans, sans-serif" font-size="14.5" fill="#131722" textLength="119.6" lengthAdjust="spacingAndGlyphs" stroke="#131722" stroke-width="0.3">MA (200, close, 0)</text>
<text x="152.9" y="100" font-family="Liberation Sans, sans-serif" font-size="14.5" fill="#000000" textLength="51" lengthAdjust="spacingAndGlyphs" stroke="#000000" stroke-width="0.3">2637.71</text>
<text x="23.4" y="121" font-family="Liberation Sans, sans-serif" font-size="14.5" fill="#131722" textLength="119.6" lengthAdjust="spacingAndGlyphs" stroke="#131722" stroke-width="0.3">EMA (50, close, 0)</text>
<text x="152.9" y="121" font-family="Liberation Sans, sans-serif" font-size="14.5" fill="#f57c00" textLength="52" lengthAdjust="spacingAndGlyphs" stroke="#f57c00" stroke-width="0.3">2628.68</text>
<text x="23.6" y="547.3" font-family="Liberation Sans, sans-serif" font-size="13.8" fill="#131722" textLength="49.4" lengthAdjust="spacingAndGlyphs" stroke="#131722" stroke-width="0.3">RSI (14)</text>
<text x="84.8" y="547.3" font-family="Liberation Sans, sans-serif" font-size="13.8" fill="#434651" textLength="34.8" lengthAdjust="spacingAndGlyphs" stroke="#434651" stroke-width="0.3">53.86</text>
<text x="601.8" y="226" font-family="Liberation Sans, sans-serif" font-size="16.5" fill="#2962ff" textLength="62.2" lengthAdjust="spacingAndGlyphs" stroke="#2962ff" stroke-width="0.3">100 SMA</text>
<text x="820.6" y="230" font-family="Liberation Sans, sans-serif" font-size="16.5" fill="#000000" textLength="63.2" lengthAdjust="spacingAndGlyphs" stroke="#000000" stroke-width="0.3">200 SMA</text>
<text x="596.2" y="326.5" font-family="Liberation Sans, sans-serif" font-size="16.5" fill="#f57c00" textLength="54.3" lengthAdjust="spacingAndGlyphs" stroke="#f57c00" stroke-width="0.3">50 EMA</text>
<path d="M1587,323 H1654.5 a2.5,2.5 0 0 1 2.5,2.5 V341.2 a2.5,2.5 0 0 1 -2.5,2.5 H1587 Z" fill="#089981"/>
<text x="1596.9" y="338.8" font-family="Liberation Sans, sans-serif" font-size="14.4" fill="#ffffff" textLength="52.9" lengthAdjust="spacingAndGlyphs" stroke="#ffffff" stroke-width="0.3">2626.40</text>
<path d="M1410.6,102.8 H1525.2 Q1535.2,102.8 1535.2,112.8 V153.7 Q1535.2,163.7 1525.2,163.7 H1410.2 L1377.3,261 L1400.6,154.6 V112.8 Q1400.6,102.8 1410.6,102.8 Z" fill="#f4707a" stroke="#fbe338" stroke-width="1.5" stroke-linejoin="round"/>
<text x="1414" y="128.7" font-family="Liberation Sans, sans-serif" font-size="16" fill="#000000" font-weight="bold" textLength="84.9" lengthAdjust="spacingAndGlyphs" stroke="#000000" stroke-width="0.3">Resistance</text>
<text x="1414" y="146.1" font-family="Liberation Sans, sans-serif" font-size="16" fill="#000000" font-weight="bold" textLength="107.2" lengthAdjust="spacingAndGlyphs" stroke="#000000" stroke-width="0.3">$2637-$2647</text>
<path d="M1386,361.9 L1414.5,442.7 H1529.2 Q1539.2,442.7 1539.2,452.7 V493.1 Q1539.2,503.1 1529.2,503.1 H1414.4 Q1404.4,503.1 1404.4,493.1 V453.8 Z" fill="#81c784" stroke="#fbe338" stroke-width="1.5" stroke-linejoin="round"/>
<text x="1418.2" y="468.7" font-family="Liberation Sans, sans-serif" font-size="16" fill="#000000" font-weight="bold" textLength="62.4" lengthAdjust="spacingAndGlyphs" stroke="#000000" stroke-width="0.3">Support</text>
<text x="1418.2" y="485.9" font-family="Liberation Sans, sans-serif" font-size="16" fill="#000000" font-weight="bold" textLength="107.2" lengthAdjust="spacingAndGlyphs" stroke="#000000" stroke-width="0.3">$2620-$2610</text>
<g fill="#131722"><path d="M13.05,646.9 H22.75 V659 H17.7 V652 H13.05 Z"/><circle cx="26.6" cy="649.3" r="2.4"/><path d="M30.1,646.9 H37.1 L31.3,659 H27 Z"/></g>
<text x="41.8" y="659" font-family="Liberation Sans, sans-serif" font-size="15.5" fill="#131722" textLength="87.7" lengthAdjust="spacingAndGlyphs" stroke="#131722" stroke-width="0.3">TradingView</text>
<g transform="translate(1588.8,653.4)"><path d="M-12.6,0 L0,-12.6 L0,-9 L-9,0 Z" fill="#d2d2d2"/><path d="M0,-12.6 L12.6,0 L9,0 L0,-9 Z" fill="#3a3a3a"/><path d="M12.6,0 L0,12.6 L0,9 L9,0 Z" fill="#5e4b14"/><path d="M0,12.6 L-12.6,0 L-9,0 L0,9 Z" fill="#e2c21c"/><path d="M-9,0 L0,-9 L0,-6.3 L-6.3,0 Z" fill="#3c3c3c"/><path d="M0,-9 L9,0 L6.3,0 L0,-6.3 Z" fill="#e4e4e4"/><path d="M9,0 L0,9 L0,6.3 L6.3,0 Z" fill="#cfae20"/><path d="M0,9 L-9,0 L-6.3,0 L0,6.3 Z" fill="#4a3a10"/><path d="M0,-6.3 L6.3,0 L0,6.3 L-6.3,0 Z" fill="#ffffff"/><path d="M0,-4.2 L4.2,0 L0,4.2 L-4.2,0 Z" fill="none" stroke="#7cb342" stroke-width="1.6"/></g>
<defs><filter id="sh" x="-30%" y="-60%" width="160%" height="220%"><feMorphology in="SourceAlpha" operator="dilate" radius="0.5" result="d"/><feGaussianBlur in="d" stdDeviation="1.2" result="b"/><feFlood flood-color="#3a3a3a" flood-opacity="0.85"/><feComposite in2="b" operator="in"/><feMerge><feMergeNode/><feMergeNode in="SourceGraphic"/></feMerge></filter></defs>
<g filter="url(#sh)"><text x="1607.4" y="651.6" font-family="Liberation Sans, sans-serif" font-size="9.2" fill="#ffffff" font-weight="bold" textLength="57.2" lengthAdjust="spacingAndGlyphs" stroke="#ffffff" stroke-width="0.5">SINO SOUND</text><path transform="translate(1607.2,654)" d="M0.5,1 h1.5 M0.5,4 h1.5 M0.5,7.3 l1.5,-1.5 M3,1 h6 M6,0 v8 M3,3.3 h6 M3.5,5.3 h5 M3,7.5 h6" stroke="#ffffff" stroke-width="1.5" fill="none"/><path transform="translate(1623.5,654)" d="M0,1 h9 M4.5,0 v3.5 M0.5,3.3 h8 M1,5.3 h7 M0,7.5 h9 M2,4 v4 M7,4 v4" stroke="#ffffff" stroke-width="1.5" fill="none"/><path transform="translate(1639.8,654)" d="M1,1 h7 M1,3 h7 M0.5,5 h8 M3,0 v5.5 M0,6.5 h9 M4.5,5 v3 M2,8 l2.5,-1.5 M7,8 l-2.5,-1.5" stroke="#ffffff" stroke-width="1.5" fill="none"/><path transform="translate(1656.2,654)" d="M0.7,0.7 h7.6 v7 h-7.6 Z M2.5,2.5 h4 M2.5,4.3 h4 M2.5,6 h4 M4.5,1.5 v5.5" stroke="#ffffff" stroke-width="1.5" fill="none"/></g>
</svg>
</body></html>
